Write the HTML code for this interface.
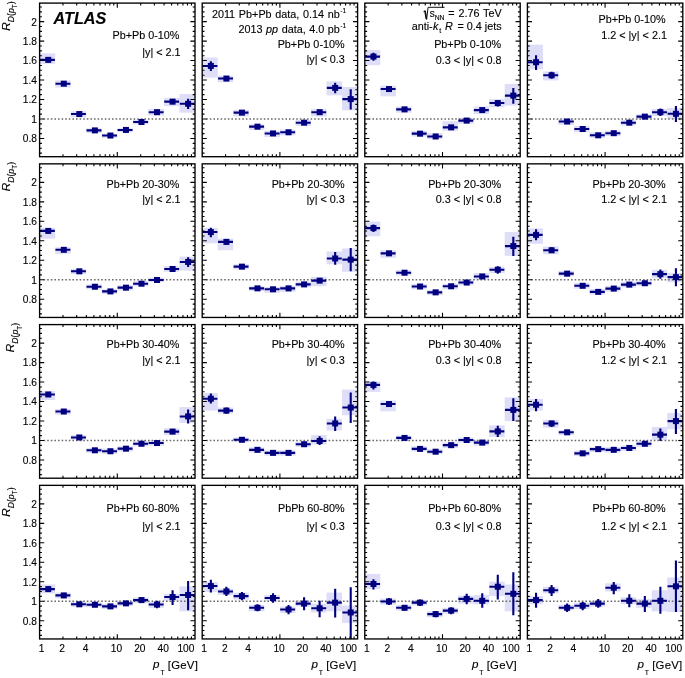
<!DOCTYPE html><html><head><meta charset="utf-8"><style>html,body{margin:0;padding:0;background:#fff;}svg text{fill:#000;stroke:#000;stroke-width:0.12px;}svg{display:block;font-family:"Liberation Sans",sans-serif;filter:blur(0.45px);}</style></head><body>
<svg width="685" height="678" viewBox="0 0 685 678">
<rect width="685" height="678" fill="#fff"/>
<g>
<clipPath id="cp00"><rect x="39.6" y="3.1" width="155.4" height="153.6"/></clipPath>
<g clip-path="url(#cp00)">
<rect x="39.6" y="53.32" width="15.54" height="10.51" fill="#dedef8"/>
<rect x="55.14" y="80.42" width="15.54" height="7.01" fill="#dedef8"/>
<rect x="70.68" y="111.25" width="15.54" height="6.07" fill="#dedef8"/>
<rect x="86.22" y="128.3" width="15.54" height="4.67" fill="#dedef8"/>
<rect x="101.76" y="133.67" width="15.54" height="4.2" fill="#dedef8"/>
<rect x="117.3" y="128.3" width="15.54" height="3.97" fill="#dedef8"/>
<rect x="132.84" y="119.66" width="15.54" height="4.67" fill="#dedef8"/>
<rect x="148.38" y="108.91" width="15.54" height="6.54" fill="#dedef8"/>
<rect x="163.92" y="97.93" width="15.54" height="8.18" fill="#dedef8"/>
<rect x="179.46" y="93.96" width="15.54" height="18.69" fill="#dedef8"/>
<line x1="43.6" y1="119.01" x2="195" y2="119.01" stroke="#6a6a6a" stroke-width="1.3" stroke-dasharray="1.6 2.0"/>
<line x1="39.9" y1="59.86" x2="54.84" y2="59.86" stroke="#000080" stroke-width="2.1"/>
<rect x="45.26" y="56.86" width="6" height="6" fill="#000080"/>
<line x1="55.44" y1="83.69" x2="70.38" y2="83.69" stroke="#000080" stroke-width="2.1"/>
<rect x="60.8" y="80.69" width="6" height="6" fill="#000080"/>
<line x1="70.98" y1="114.05" x2="85.92" y2="114.05" stroke="#000080" stroke-width="2.1"/>
<rect x="76.34" y="111.05" width="6" height="6" fill="#000080"/>
<line x1="86.52" y1="130.4" x2="101.46" y2="130.4" stroke="#000080" stroke-width="2.1"/>
<rect x="91.88" y="127.4" width="6" height="6" fill="#000080"/>
<line x1="102.06" y1="135.54" x2="117" y2="135.54" stroke="#000080" stroke-width="2.1"/>
<rect x="107.42" y="132.54" width="6" height="6" fill="#000080"/>
<line x1="117.6" y1="129.93" x2="132.54" y2="129.93" stroke="#000080" stroke-width="2.1"/>
<rect x="122.96" y="126.93" width="6" height="6" fill="#000080"/>
<line x1="133.14" y1="121.99" x2="148.08" y2="121.99" stroke="#000080" stroke-width="2.1"/>
<rect x="138.5" y="118.99" width="6" height="6" fill="#000080"/>
<line x1="148.68" y1="112.18" x2="163.62" y2="112.18" stroke="#000080" stroke-width="2.1"/>
<rect x="154.04" y="109.18" width="6" height="6" fill="#000080"/>
<line x1="164.22" y1="101.67" x2="179.16" y2="101.67" stroke="#000080" stroke-width="2.1"/>
<rect x="169.58" y="98.67" width="6" height="6" fill="#000080"/>
<line x1="179.76" y1="103.77" x2="194.7" y2="103.77" stroke="#000080" stroke-width="2.1"/>
<line x1="188.12" y1="98.64" x2="188.12" y2="108.91" stroke="#000080" stroke-width="2.1"/>
<rect x="185.12" y="100.77" width="6" height="6" fill="#000080"/>
</g>
<path d="M39.6 153.1h2.3M195 153.1h-2.3M39.6 148.23h2.3M195 148.23h-2.3M39.6 143.36h2.3M195 143.36h-2.3M39.6 138.49h4.6M195 138.49h-4.6M39.6 133.62h2.3M195 133.62h-2.3M39.6 128.75h2.3M195 128.75h-2.3M39.6 123.88h2.3M195 123.88h-2.3M39.6 119.01h4.6M195 119.01h-4.6M39.6 114.14h2.3M195 114.14h-2.3M39.6 109.27h2.3M195 109.27h-2.3M39.6 104.4h2.3M195 104.4h-2.3M39.6 99.53h4.6M195 99.53h-4.6M39.6 94.66h2.3M195 94.66h-2.3M39.6 89.79h2.3M195 89.79h-2.3M39.6 84.92h2.3M195 84.92h-2.3M39.6 80.05h4.6M195 80.05h-4.6M39.6 75.18h2.3M195 75.18h-2.3M39.6 70.31h2.3M195 70.31h-2.3M39.6 65.44h2.3M195 65.44h-2.3M39.6 60.57h4.6M195 60.57h-4.6M39.6 55.7h2.3M195 55.7h-2.3M39.6 50.83h2.3M195 50.83h-2.3M39.6 45.96h2.3M195 45.96h-2.3M39.6 41.09h4.6M195 41.09h-4.6M39.6 36.22h2.3M195 36.22h-2.3M39.6 31.35h2.3M195 31.35h-2.3M39.6 26.48h2.3M195 26.48h-2.3M39.6 21.61h4.6M195 21.61h-4.6M39.6 16.74h2.3M195 16.74h-2.3M39.6 11.87h2.3M195 11.87h-2.3M39.6 7h2.3M195 7h-2.3M62.99 156.7v-2.4M62.99 3.1v2.4M76.67 156.7v-2.4M76.67 3.1v2.4M86.38 156.7v-2.4M86.38 3.1v2.4M93.91 156.7v-2.4M93.91 3.1v2.4M100.06 156.7v-2.4M100.06 3.1v2.4M105.26 156.7v-2.4M105.26 3.1v2.4M109.77 156.7v-2.4M109.77 3.1v2.4M113.74 156.7v-2.4M113.74 3.1v2.4M117.3 156.7v-4.6M117.3 3.1v4.6M140.69 156.7v-2.4M140.69 3.1v2.4M154.37 156.7v-2.4M154.37 3.1v2.4M164.08 156.7v-2.4M164.08 3.1v2.4M171.61 156.7v-2.4M171.61 3.1v2.4M177.76 156.7v-2.4M177.76 3.1v2.4M182.96 156.7v-2.4M182.96 3.1v2.4M187.47 156.7v-2.4M187.47 3.1v2.4M191.44 156.7v-2.4M191.44 3.1v2.4" stroke="#000" stroke-width="1.1" fill="none"/>
<rect x="39.6" y="3.1" width="155.4" height="153.6" fill="none" stroke="#000" stroke-width="1.35"/>
</g>
<g>
<clipPath id="cp01"><rect x="202.2" y="3.1" width="155.4" height="153.6"/></clipPath>
<g clip-path="url(#cp01)">
<rect x="202.2" y="57.53" width="15.54" height="20.09" fill="#dedef8"/>
<rect x="217.74" y="75.74" width="15.54" height="6.54" fill="#dedef8"/>
<rect x="233.28" y="109.85" width="15.54" height="6.54" fill="#dedef8"/>
<rect x="248.82" y="124.33" width="15.54" height="5.61" fill="#dedef8"/>
<rect x="264.36" y="130.87" width="15.54" height="6.07" fill="#dedef8"/>
<rect x="279.9" y="129.47" width="15.54" height="5.84" fill="#dedef8"/>
<rect x="295.44" y="120.12" width="15.54" height="5.84" fill="#dedef8"/>
<rect x="310.98" y="108.91" width="15.54" height="7.47" fill="#dedef8"/>
<rect x="326.52" y="81.35" width="15.54" height="14.01" fill="#dedef8"/>
<rect x="342.06" y="86.96" width="15.54" height="23.36" fill="#dedef8"/>
<line x1="206.2" y1="119.01" x2="357.6" y2="119.01" stroke="#6a6a6a" stroke-width="1.3" stroke-dasharray="1.6 2.0"/>
<line x1="202.5" y1="65.93" x2="217.44" y2="65.93" stroke="#000080" stroke-width="2.1"/>
<line x1="210.86" y1="61.26" x2="210.86" y2="71.07" stroke="#000080" stroke-width="2.1"/>
<rect x="207.86" y="62.93" width="6" height="6" fill="#000080"/>
<line x1="218.04" y1="78.55" x2="232.98" y2="78.55" stroke="#000080" stroke-width="2.1"/>
<rect x="223.4" y="75.55" width="6" height="6" fill="#000080"/>
<line x1="233.58" y1="112.65" x2="248.52" y2="112.65" stroke="#000080" stroke-width="2.1"/>
<rect x="238.94" y="109.65" width="6" height="6" fill="#000080"/>
<line x1="249.12" y1="126.66" x2="264.06" y2="126.66" stroke="#000080" stroke-width="2.1"/>
<rect x="254.48" y="123.66" width="6" height="6" fill="#000080"/>
<line x1="264.66" y1="133.44" x2="279.6" y2="133.44" stroke="#000080" stroke-width="2.1"/>
<rect x="270.02" y="130.44" width="6" height="6" fill="#000080"/>
<line x1="280.2" y1="132.27" x2="295.14" y2="132.27" stroke="#000080" stroke-width="2.1"/>
<rect x="285.56" y="129.27" width="6" height="6" fill="#000080"/>
<line x1="295.74" y1="122.69" x2="310.68" y2="122.69" stroke="#000080" stroke-width="2.1"/>
<rect x="301.1" y="119.69" width="6" height="6" fill="#000080"/>
<line x1="311.28" y1="112.18" x2="326.22" y2="112.18" stroke="#000080" stroke-width="2.1"/>
<rect x="316.64" y="109.18" width="6" height="6" fill="#000080"/>
<line x1="326.82" y1="87.89" x2="341.76" y2="87.89" stroke="#000080" stroke-width="2.1"/>
<line x1="335.18" y1="82.75" x2="335.18" y2="93.26" stroke="#000080" stroke-width="2.1"/>
<rect x="332.18" y="84.89" width="6" height="6" fill="#000080"/>
<line x1="342.36" y1="99.1" x2="357.3" y2="99.1" stroke="#000080" stroke-width="2.1"/>
<line x1="350.72" y1="89.29" x2="350.72" y2="109.38" stroke="#000080" stroke-width="2.1"/>
<rect x="347.72" y="96.1" width="6" height="6" fill="#000080"/>
</g>
<path d="M202.2 153.1h2.3M357.6 153.1h-2.3M202.2 148.23h2.3M357.6 148.23h-2.3M202.2 143.36h2.3M357.6 143.36h-2.3M202.2 138.49h4.6M357.6 138.49h-4.6M202.2 133.62h2.3M357.6 133.62h-2.3M202.2 128.75h2.3M357.6 128.75h-2.3M202.2 123.88h2.3M357.6 123.88h-2.3M202.2 119.01h4.6M357.6 119.01h-4.6M202.2 114.14h2.3M357.6 114.14h-2.3M202.2 109.27h2.3M357.6 109.27h-2.3M202.2 104.4h2.3M357.6 104.4h-2.3M202.2 99.53h4.6M357.6 99.53h-4.6M202.2 94.66h2.3M357.6 94.66h-2.3M202.2 89.79h2.3M357.6 89.79h-2.3M202.2 84.92h2.3M357.6 84.92h-2.3M202.2 80.05h4.6M357.6 80.05h-4.6M202.2 75.18h2.3M357.6 75.18h-2.3M202.2 70.31h2.3M357.6 70.31h-2.3M202.2 65.44h2.3M357.6 65.44h-2.3M202.2 60.57h4.6M357.6 60.57h-4.6M202.2 55.7h2.3M357.6 55.7h-2.3M202.2 50.83h2.3M357.6 50.83h-2.3M202.2 45.96h2.3M357.6 45.96h-2.3M202.2 41.09h4.6M357.6 41.09h-4.6M202.2 36.22h2.3M357.6 36.22h-2.3M202.2 31.35h2.3M357.6 31.35h-2.3M202.2 26.48h2.3M357.6 26.48h-2.3M202.2 21.61h4.6M357.6 21.61h-4.6M202.2 16.74h2.3M357.6 16.74h-2.3M202.2 11.87h2.3M357.6 11.87h-2.3M202.2 7h2.3M357.6 7h-2.3M225.59 156.7v-2.4M225.59 3.1v2.4M239.27 156.7v-2.4M239.27 3.1v2.4M248.98 156.7v-2.4M248.98 3.1v2.4M256.51 156.7v-2.4M256.51 3.1v2.4M262.66 156.7v-2.4M262.66 3.1v2.4M267.86 156.7v-2.4M267.86 3.1v2.4M272.37 156.7v-2.4M272.37 3.1v2.4M276.34 156.7v-2.4M276.34 3.1v2.4M279.9 156.7v-4.6M279.9 3.1v4.6M303.29 156.7v-2.4M303.29 3.1v2.4M316.97 156.7v-2.4M316.97 3.1v2.4M326.68 156.7v-2.4M326.68 3.1v2.4M334.21 156.7v-2.4M334.21 3.1v2.4M340.36 156.7v-2.4M340.36 3.1v2.4M345.56 156.7v-2.4M345.56 3.1v2.4M350.07 156.7v-2.4M350.07 3.1v2.4M354.04 156.7v-2.4M354.04 3.1v2.4" stroke="#000" stroke-width="1.1" fill="none"/>
<rect x="202.2" y="3.1" width="155.4" height="153.6" fill="none" stroke="#000" stroke-width="1.35"/>
</g>
<g>
<clipPath id="cp02"><rect x="364.8" y="3.1" width="155.4" height="153.6"/></clipPath>
<g clip-path="url(#cp02)">
<rect x="364.8" y="50.05" width="15.54" height="15.18" fill="#dedef8"/>
<rect x="380.34" y="85.79" width="15.54" height="10.51" fill="#dedef8"/>
<rect x="395.88" y="106.58" width="15.54" height="6.07" fill="#dedef8"/>
<rect x="411.42" y="130.87" width="15.54" height="5.61" fill="#dedef8"/>
<rect x="426.96" y="133.2" width="15.54" height="6.07" fill="#dedef8"/>
<rect x="442.5" y="121.29" width="15.54" height="9.58" fill="#dedef8"/>
<rect x="458.04" y="117.79" width="15.54" height="6.07" fill="#dedef8"/>
<rect x="473.58" y="106.58" width="15.54" height="7.47" fill="#dedef8"/>
<rect x="489.12" y="99.1" width="15.54" height="8.18" fill="#dedef8"/>
<rect x="504.66" y="83.92" width="15.54" height="21.72" fill="#dedef8"/>
<line x1="368.8" y1="119.01" x2="520.2" y2="119.01" stroke="#6a6a6a" stroke-width="1.3" stroke-dasharray="1.6 2.0"/>
<line x1="365.1" y1="56.59" x2="380.04" y2="56.59" stroke="#000080" stroke-width="2.1"/>
<line x1="373.46" y1="52.85" x2="373.46" y2="60.8" stroke="#000080" stroke-width="2.1"/>
<rect x="370.46" y="53.59" width="6" height="6" fill="#000080"/>
<line x1="380.64" y1="89.06" x2="395.58" y2="89.06" stroke="#000080" stroke-width="2.1"/>
<rect x="386" y="86.06" width="6" height="6" fill="#000080"/>
<line x1="396.18" y1="109.38" x2="411.12" y2="109.38" stroke="#000080" stroke-width="2.1"/>
<rect x="401.54" y="106.38" width="6" height="6" fill="#000080"/>
<line x1="411.72" y1="133.67" x2="426.66" y2="133.67" stroke="#000080" stroke-width="2.1"/>
<rect x="417.08" y="130.67" width="6" height="6" fill="#000080"/>
<line x1="427.26" y1="136.47" x2="442.2" y2="136.47" stroke="#000080" stroke-width="2.1"/>
<rect x="432.62" y="133.47" width="6" height="6" fill="#000080"/>
<line x1="442.8" y1="127.36" x2="457.74" y2="127.36" stroke="#000080" stroke-width="2.1"/>
<rect x="448.16" y="124.36" width="6" height="6" fill="#000080"/>
<line x1="458.34" y1="120.59" x2="473.28" y2="120.59" stroke="#000080" stroke-width="2.1"/>
<rect x="463.7" y="117.59" width="6" height="6" fill="#000080"/>
<line x1="473.88" y1="110.08" x2="488.82" y2="110.08" stroke="#000080" stroke-width="2.1"/>
<rect x="479.24" y="107.08" width="6" height="6" fill="#000080"/>
<line x1="489.42" y1="103.07" x2="504.36" y2="103.07" stroke="#000080" stroke-width="2.1"/>
<line x1="497.78" y1="100.27" x2="497.78" y2="106.58" stroke="#000080" stroke-width="2.1"/>
<rect x="494.78" y="100.07" width="6" height="6" fill="#000080"/>
<line x1="504.96" y1="95.6" x2="519.9" y2="95.6" stroke="#000080" stroke-width="2.1"/>
<line x1="513.32" y1="87.89" x2="513.32" y2="103.77" stroke="#000080" stroke-width="2.1"/>
<rect x="510.32" y="92.6" width="6" height="6" fill="#000080"/>
</g>
<path d="M364.8 153.1h2.3M520.2 153.1h-2.3M364.8 148.23h2.3M520.2 148.23h-2.3M364.8 143.36h2.3M520.2 143.36h-2.3M364.8 138.49h4.6M520.2 138.49h-4.6M364.8 133.62h2.3M520.2 133.62h-2.3M364.8 128.75h2.3M520.2 128.75h-2.3M364.8 123.88h2.3M520.2 123.88h-2.3M364.8 119.01h4.6M520.2 119.01h-4.6M364.8 114.14h2.3M520.2 114.14h-2.3M364.8 109.27h2.3M520.2 109.27h-2.3M364.8 104.4h2.3M520.2 104.4h-2.3M364.8 99.53h4.6M520.2 99.53h-4.6M364.8 94.66h2.3M520.2 94.66h-2.3M364.8 89.79h2.3M520.2 89.79h-2.3M364.8 84.92h2.3M520.2 84.92h-2.3M364.8 80.05h4.6M520.2 80.05h-4.6M364.8 75.18h2.3M520.2 75.18h-2.3M364.8 70.31h2.3M520.2 70.31h-2.3M364.8 65.44h2.3M520.2 65.44h-2.3M364.8 60.57h4.6M520.2 60.57h-4.6M364.8 55.7h2.3M520.2 55.7h-2.3M364.8 50.83h2.3M520.2 50.83h-2.3M364.8 45.96h2.3M520.2 45.96h-2.3M364.8 41.09h4.6M520.2 41.09h-4.6M364.8 36.22h2.3M520.2 36.22h-2.3M364.8 31.35h2.3M520.2 31.35h-2.3M364.8 26.48h2.3M520.2 26.48h-2.3M364.8 21.61h4.6M520.2 21.61h-4.6M364.8 16.74h2.3M520.2 16.74h-2.3M364.8 11.87h2.3M520.2 11.87h-2.3M364.8 7h2.3M520.2 7h-2.3M388.19 156.7v-2.4M388.19 3.1v2.4M401.87 156.7v-2.4M401.87 3.1v2.4M411.58 156.7v-2.4M411.58 3.1v2.4M419.11 156.7v-2.4M419.11 3.1v2.4M425.26 156.7v-2.4M425.26 3.1v2.4M430.46 156.7v-2.4M430.46 3.1v2.4M434.97 156.7v-2.4M434.97 3.1v2.4M438.94 156.7v-2.4M438.94 3.1v2.4M442.5 156.7v-4.6M442.5 3.1v4.6M465.89 156.7v-2.4M465.89 3.1v2.4M479.57 156.7v-2.4M479.57 3.1v2.4M489.28 156.7v-2.4M489.28 3.1v2.4M496.81 156.7v-2.4M496.81 3.1v2.4M502.96 156.7v-2.4M502.96 3.1v2.4M508.16 156.7v-2.4M508.16 3.1v2.4M512.67 156.7v-2.4M512.67 3.1v2.4M516.64 156.7v-2.4M516.64 3.1v2.4" stroke="#000" stroke-width="1.1" fill="none"/>
<rect x="364.8" y="3.1" width="155.4" height="153.6" fill="none" stroke="#000" stroke-width="1.35"/>
</g>
<g>
<clipPath id="cp03"><rect x="527.4" y="3.1" width="155.4" height="153.6"/></clipPath>
<g clip-path="url(#cp03)">
<rect x="527.4" y="44.68" width="15.54" height="24.53" fill="#dedef8"/>
<rect x="542.94" y="71.54" width="15.54" height="8.88" fill="#dedef8"/>
<rect x="558.48" y="118.96" width="15.54" height="5.84" fill="#dedef8"/>
<rect x="574.02" y="125.96" width="15.54" height="6.31" fill="#dedef8"/>
<rect x="589.56" y="132.27" width="15.54" height="5.61" fill="#dedef8"/>
<rect x="605.1" y="130.64" width="15.54" height="5.37" fill="#dedef8"/>
<rect x="620.64" y="120.12" width="15.54" height="5.37" fill="#dedef8"/>
<rect x="636.18" y="114.28" width="15.54" height="5.14" fill="#dedef8"/>
<rect x="651.72" y="108.91" width="15.54" height="7.01" fill="#dedef8"/>
<rect x="667.26" y="107.98" width="15.54" height="10.98" fill="#dedef8"/>
<line x1="531.4" y1="119.01" x2="682.8" y2="119.01" stroke="#6a6a6a" stroke-width="1.3" stroke-dasharray="1.6 2.0"/>
<line x1="527.7" y1="62.2" x2="542.64" y2="62.2" stroke="#000080" stroke-width="2.1"/>
<line x1="536.06" y1="55.19" x2="536.06" y2="69.91" stroke="#000080" stroke-width="2.1"/>
<rect x="533.06" y="59.2" width="6" height="6" fill="#000080"/>
<line x1="543.24" y1="75.28" x2="558.18" y2="75.28" stroke="#000080" stroke-width="2.1"/>
<line x1="551.6" y1="71.77" x2="551.6" y2="78.78" stroke="#000080" stroke-width="2.1"/>
<rect x="548.6" y="72.28" width="6" height="6" fill="#000080"/>
<line x1="558.78" y1="121.53" x2="573.72" y2="121.53" stroke="#000080" stroke-width="2.1"/>
<rect x="564.14" y="118.53" width="6" height="6" fill="#000080"/>
<line x1="574.32" y1="129" x2="589.26" y2="129" stroke="#000080" stroke-width="2.1"/>
<rect x="579.68" y="126" width="6" height="6" fill="#000080"/>
<line x1="589.86" y1="135.31" x2="604.8" y2="135.31" stroke="#000080" stroke-width="2.1"/>
<rect x="595.22" y="132.31" width="6" height="6" fill="#000080"/>
<line x1="605.4" y1="133.2" x2="620.34" y2="133.2" stroke="#000080" stroke-width="2.1"/>
<rect x="610.76" y="130.2" width="6" height="6" fill="#000080"/>
<line x1="620.94" y1="122.69" x2="635.88" y2="122.69" stroke="#000080" stroke-width="2.1"/>
<rect x="626.3" y="119.69" width="6" height="6" fill="#000080"/>
<line x1="636.48" y1="116.62" x2="651.42" y2="116.62" stroke="#000080" stroke-width="2.1"/>
<rect x="641.84" y="113.62" width="6" height="6" fill="#000080"/>
<line x1="652.02" y1="112.18" x2="666.96" y2="112.18" stroke="#000080" stroke-width="2.1"/>
<line x1="660.38" y1="108.45" x2="660.38" y2="115.92" stroke="#000080" stroke-width="2.1"/>
<rect x="657.38" y="109.18" width="6" height="6" fill="#000080"/>
<line x1="667.56" y1="113.82" x2="682.5" y2="113.82" stroke="#000080" stroke-width="2.1"/>
<line x1="675.92" y1="106.11" x2="675.92" y2="121.99" stroke="#000080" stroke-width="2.1"/>
<rect x="672.92" y="110.82" width="6" height="6" fill="#000080"/>
</g>
<path d="M527.4 153.1h2.3M682.8 153.1h-2.3M527.4 148.23h2.3M682.8 148.23h-2.3M527.4 143.36h2.3M682.8 143.36h-2.3M527.4 138.49h4.6M682.8 138.49h-4.6M527.4 133.62h2.3M682.8 133.62h-2.3M527.4 128.75h2.3M682.8 128.75h-2.3M527.4 123.88h2.3M682.8 123.88h-2.3M527.4 119.01h4.6M682.8 119.01h-4.6M527.4 114.14h2.3M682.8 114.14h-2.3M527.4 109.27h2.3M682.8 109.27h-2.3M527.4 104.4h2.3M682.8 104.4h-2.3M527.4 99.53h4.6M682.8 99.53h-4.6M527.4 94.66h2.3M682.8 94.66h-2.3M527.4 89.79h2.3M682.8 89.79h-2.3M527.4 84.92h2.3M682.8 84.92h-2.3M527.4 80.05h4.6M682.8 80.05h-4.6M527.4 75.18h2.3M682.8 75.18h-2.3M527.4 70.31h2.3M682.8 70.31h-2.3M527.4 65.44h2.3M682.8 65.44h-2.3M527.4 60.57h4.6M682.8 60.57h-4.6M527.4 55.7h2.3M682.8 55.7h-2.3M527.4 50.83h2.3M682.8 50.83h-2.3M527.4 45.96h2.3M682.8 45.96h-2.3M527.4 41.09h4.6M682.8 41.09h-4.6M527.4 36.22h2.3M682.8 36.22h-2.3M527.4 31.35h2.3M682.8 31.35h-2.3M527.4 26.48h2.3M682.8 26.48h-2.3M527.4 21.61h4.6M682.8 21.61h-4.6M527.4 16.74h2.3M682.8 16.74h-2.3M527.4 11.87h2.3M682.8 11.87h-2.3M527.4 7h2.3M682.8 7h-2.3M550.79 156.7v-2.4M550.79 3.1v2.4M564.47 156.7v-2.4M564.47 3.1v2.4M574.18 156.7v-2.4M574.18 3.1v2.4M581.71 156.7v-2.4M581.71 3.1v2.4M587.86 156.7v-2.4M587.86 3.1v2.4M593.06 156.7v-2.4M593.06 3.1v2.4M597.57 156.7v-2.4M597.57 3.1v2.4M601.54 156.7v-2.4M601.54 3.1v2.4M605.1 156.7v-4.6M605.1 3.1v4.6M628.49 156.7v-2.4M628.49 3.1v2.4M642.17 156.7v-2.4M642.17 3.1v2.4M651.88 156.7v-2.4M651.88 3.1v2.4M659.41 156.7v-2.4M659.41 3.1v2.4M665.56 156.7v-2.4M665.56 3.1v2.4M670.76 156.7v-2.4M670.76 3.1v2.4M675.27 156.7v-2.4M675.27 3.1v2.4M679.24 156.7v-2.4M679.24 3.1v2.4" stroke="#000" stroke-width="1.1" fill="none"/>
<rect x="527.4" y="3.1" width="155.4" height="153.6" fill="none" stroke="#000" stroke-width="1.35"/>
</g>
<g>
<clipPath id="cp10"><rect x="39.6" y="163.85" width="155.4" height="153.6"/></clipPath>
<g clip-path="url(#cp10)">
<rect x="39.6" y="227.87" width="15.54" height="10.74" fill="#dedef8"/>
<rect x="55.14" y="247.26" width="15.54" height="6.54" fill="#dedef8"/>
<rect x="70.68" y="268.98" width="15.54" height="5.14" fill="#dedef8"/>
<rect x="86.22" y="284.39" width="15.54" height="4.91" fill="#dedef8"/>
<rect x="101.76" y="289.3" width="15.54" height="4.67" fill="#dedef8"/>
<rect x="117.3" y="285.33" width="15.54" height="5.14" fill="#dedef8"/>
<rect x="132.84" y="281.12" width="15.54" height="5.14" fill="#dedef8"/>
<rect x="148.38" y="277.62" width="15.54" height="4.67" fill="#dedef8"/>
<rect x="163.92" y="266.18" width="15.54" height="5.61" fill="#dedef8"/>
<rect x="179.46" y="256.6" width="15.54" height="14.01" fill="#dedef8"/>
<line x1="43.6" y1="279.76" x2="195" y2="279.76" stroke="#6a6a6a" stroke-width="1.3" stroke-dasharray="1.6 2.0"/>
<line x1="39.9" y1="230.91" x2="54.84" y2="230.91" stroke="#000080" stroke-width="2.1"/>
<rect x="45.26" y="227.91" width="6" height="6" fill="#000080"/>
<line x1="55.44" y1="249.82" x2="70.38" y2="249.82" stroke="#000080" stroke-width="2.1"/>
<rect x="60.8" y="246.82" width="6" height="6" fill="#000080"/>
<line x1="70.98" y1="271.31" x2="85.92" y2="271.31" stroke="#000080" stroke-width="2.1"/>
<rect x="76.34" y="268.31" width="6" height="6" fill="#000080"/>
<line x1="86.52" y1="286.73" x2="101.46" y2="286.73" stroke="#000080" stroke-width="2.1"/>
<rect x="91.88" y="283.73" width="6" height="6" fill="#000080"/>
<line x1="102.06" y1="291.4" x2="117" y2="291.4" stroke="#000080" stroke-width="2.1"/>
<rect x="107.42" y="288.4" width="6" height="6" fill="#000080"/>
<line x1="117.6" y1="287.66" x2="132.54" y2="287.66" stroke="#000080" stroke-width="2.1"/>
<rect x="122.96" y="284.66" width="6" height="6" fill="#000080"/>
<line x1="133.14" y1="283.69" x2="148.08" y2="283.69" stroke="#000080" stroke-width="2.1"/>
<rect x="138.5" y="280.69" width="6" height="6" fill="#000080"/>
<line x1="148.68" y1="279.96" x2="163.62" y2="279.96" stroke="#000080" stroke-width="2.1"/>
<rect x="154.04" y="276.96" width="6" height="6" fill="#000080"/>
<line x1="164.22" y1="268.98" x2="179.16" y2="268.98" stroke="#000080" stroke-width="2.1"/>
<rect x="169.58" y="265.98" width="6" height="6" fill="#000080"/>
<line x1="179.76" y1="261.97" x2="194.7" y2="261.97" stroke="#000080" stroke-width="2.1"/>
<line x1="188.12" y1="257.3" x2="188.12" y2="267.11" stroke="#000080" stroke-width="2.1"/>
<rect x="185.12" y="258.97" width="6" height="6" fill="#000080"/>
</g>
<path d="M39.6 313.85h2.3M195 313.85h-2.3M39.6 308.98h2.3M195 308.98h-2.3M39.6 304.11h2.3M195 304.11h-2.3M39.6 299.24h4.6M195 299.24h-4.6M39.6 294.37h2.3M195 294.37h-2.3M39.6 289.5h2.3M195 289.5h-2.3M39.6 284.63h2.3M195 284.63h-2.3M39.6 279.76h4.6M195 279.76h-4.6M39.6 274.89h2.3M195 274.89h-2.3M39.6 270.02h2.3M195 270.02h-2.3M39.6 265.15h2.3M195 265.15h-2.3M39.6 260.28h4.6M195 260.28h-4.6M39.6 255.41h2.3M195 255.41h-2.3M39.6 250.54h2.3M195 250.54h-2.3M39.6 245.67h2.3M195 245.67h-2.3M39.6 240.8h4.6M195 240.8h-4.6M39.6 235.93h2.3M195 235.93h-2.3M39.6 231.06h2.3M195 231.06h-2.3M39.6 226.19h2.3M195 226.19h-2.3M39.6 221.32h4.6M195 221.32h-4.6M39.6 216.45h2.3M195 216.45h-2.3M39.6 211.58h2.3M195 211.58h-2.3M39.6 206.71h2.3M195 206.71h-2.3M39.6 201.84h4.6M195 201.84h-4.6M39.6 196.97h2.3M195 196.97h-2.3M39.6 192.1h2.3M195 192.1h-2.3M39.6 187.23h2.3M195 187.23h-2.3M39.6 182.36h4.6M195 182.36h-4.6M39.6 177.49h2.3M195 177.49h-2.3M39.6 172.62h2.3M195 172.62h-2.3M39.6 167.75h2.3M195 167.75h-2.3M62.99 317.45v-2.4M62.99 163.85v2.4M76.67 317.45v-2.4M76.67 163.85v2.4M86.38 317.45v-2.4M86.38 163.85v2.4M93.91 317.45v-2.4M93.91 163.85v2.4M100.06 317.45v-2.4M100.06 163.85v2.4M105.26 317.45v-2.4M105.26 163.85v2.4M109.77 317.45v-2.4M109.77 163.85v2.4M113.74 317.45v-2.4M113.74 163.85v2.4M117.3 317.45v-4.6M117.3 163.85v4.6M140.69 317.45v-2.4M140.69 163.85v2.4M154.37 317.45v-2.4M154.37 163.85v2.4M164.08 317.45v-2.4M164.08 163.85v2.4M171.61 317.45v-2.4M171.61 163.85v2.4M177.76 317.45v-2.4M177.76 163.85v2.4M182.96 317.45v-2.4M182.96 163.85v2.4M187.47 317.45v-2.4M187.47 163.85v2.4M191.44 317.45v-2.4M191.44 163.85v2.4" stroke="#000" stroke-width="1.1" fill="none"/>
<rect x="39.6" y="163.85" width="155.4" height="153.6" fill="none" stroke="#000" stroke-width="1.35"/>
</g>
<g>
<clipPath id="cp11"><rect x="202.2" y="163.85" width="155.4" height="153.6"/></clipPath>
<g clip-path="url(#cp11)">
<rect x="202.2" y="227.87" width="15.54" height="15.42" fill="#dedef8"/>
<rect x="217.74" y="238.61" width="15.54" height="11.68" fill="#dedef8"/>
<rect x="233.28" y="264.31" width="15.54" height="5.14" fill="#dedef8"/>
<rect x="248.82" y="286.26" width="15.54" height="4.67" fill="#dedef8"/>
<rect x="264.36" y="286.96" width="15.54" height="5.84" fill="#dedef8"/>
<rect x="279.9" y="285.8" width="15.54" height="6.07" fill="#dedef8"/>
<rect x="295.44" y="281.59" width="15.54" height="5.61" fill="#dedef8"/>
<rect x="310.98" y="276.92" width="15.54" height="9.34" fill="#dedef8"/>
<rect x="326.52" y="251.46" width="15.54" height="12.85" fill="#dedef8"/>
<rect x="342.06" y="248.42" width="15.54" height="23.36" fill="#dedef8"/>
<line x1="206.2" y1="279.76" x2="357.6" y2="279.76" stroke="#6a6a6a" stroke-width="1.3" stroke-dasharray="1.6 2.0"/>
<line x1="202.5" y1="232.07" x2="217.44" y2="232.07" stroke="#000080" stroke-width="2.1"/>
<line x1="210.86" y1="227.87" x2="210.86" y2="237.21" stroke="#000080" stroke-width="2.1"/>
<rect x="207.86" y="229.07" width="6" height="6" fill="#000080"/>
<line x1="218.04" y1="241.88" x2="232.98" y2="241.88" stroke="#000080" stroke-width="2.1"/>
<line x1="226.4" y1="239.08" x2="226.4" y2="244.92" stroke="#000080" stroke-width="2.1"/>
<rect x="223.4" y="238.88" width="6" height="6" fill="#000080"/>
<line x1="233.58" y1="266.64" x2="248.52" y2="266.64" stroke="#000080" stroke-width="2.1"/>
<rect x="238.94" y="263.64" width="6" height="6" fill="#000080"/>
<line x1="249.12" y1="288.36" x2="264.06" y2="288.36" stroke="#000080" stroke-width="2.1"/>
<rect x="254.48" y="285.36" width="6" height="6" fill="#000080"/>
<line x1="264.66" y1="289.3" x2="279.6" y2="289.3" stroke="#000080" stroke-width="2.1"/>
<rect x="270.02" y="286.3" width="6" height="6" fill="#000080"/>
<line x1="280.2" y1="288.36" x2="295.14" y2="288.36" stroke="#000080" stroke-width="2.1"/>
<rect x="285.56" y="285.36" width="6" height="6" fill="#000080"/>
<line x1="295.74" y1="284.39" x2="310.68" y2="284.39" stroke="#000080" stroke-width="2.1"/>
<rect x="301.1" y="281.39" width="6" height="6" fill="#000080"/>
<line x1="311.28" y1="280.66" x2="326.22" y2="280.66" stroke="#000080" stroke-width="2.1"/>
<rect x="316.64" y="277.66" width="6" height="6" fill="#000080"/>
<line x1="326.82" y1="258.47" x2="341.76" y2="258.47" stroke="#000080" stroke-width="2.1"/>
<line x1="335.18" y1="251.93" x2="335.18" y2="264.77" stroke="#000080" stroke-width="2.1"/>
<rect x="332.18" y="255.47" width="6" height="6" fill="#000080"/>
<line x1="342.36" y1="259.64" x2="357.3" y2="259.64" stroke="#000080" stroke-width="2.1"/>
<line x1="350.72" y1="247.96" x2="350.72" y2="271.31" stroke="#000080" stroke-width="2.1"/>
<rect x="347.72" y="256.64" width="6" height="6" fill="#000080"/>
</g>
<path d="M202.2 313.85h2.3M357.6 313.85h-2.3M202.2 308.98h2.3M357.6 308.98h-2.3M202.2 304.11h2.3M357.6 304.11h-2.3M202.2 299.24h4.6M357.6 299.24h-4.6M202.2 294.37h2.3M357.6 294.37h-2.3M202.2 289.5h2.3M357.6 289.5h-2.3M202.2 284.63h2.3M357.6 284.63h-2.3M202.2 279.76h4.6M357.6 279.76h-4.6M202.2 274.89h2.3M357.6 274.89h-2.3M202.2 270.02h2.3M357.6 270.02h-2.3M202.2 265.15h2.3M357.6 265.15h-2.3M202.2 260.28h4.6M357.6 260.28h-4.6M202.2 255.41h2.3M357.6 255.41h-2.3M202.2 250.54h2.3M357.6 250.54h-2.3M202.2 245.67h2.3M357.6 245.67h-2.3M202.2 240.8h4.6M357.6 240.8h-4.6M202.2 235.93h2.3M357.6 235.93h-2.3M202.2 231.06h2.3M357.6 231.06h-2.3M202.2 226.19h2.3M357.6 226.19h-2.3M202.2 221.32h4.6M357.6 221.32h-4.6M202.2 216.45h2.3M357.6 216.45h-2.3M202.2 211.58h2.3M357.6 211.58h-2.3M202.2 206.71h2.3M357.6 206.71h-2.3M202.2 201.84h4.6M357.6 201.84h-4.6M202.2 196.97h2.3M357.6 196.97h-2.3M202.2 192.1h2.3M357.6 192.1h-2.3M202.2 187.23h2.3M357.6 187.23h-2.3M202.2 182.36h4.6M357.6 182.36h-4.6M202.2 177.49h2.3M357.6 177.49h-2.3M202.2 172.62h2.3M357.6 172.62h-2.3M202.2 167.75h2.3M357.6 167.75h-2.3M225.59 317.45v-2.4M225.59 163.85v2.4M239.27 317.45v-2.4M239.27 163.85v2.4M248.98 317.45v-2.4M248.98 163.85v2.4M256.51 317.45v-2.4M256.51 163.85v2.4M262.66 317.45v-2.4M262.66 163.85v2.4M267.86 317.45v-2.4M267.86 163.85v2.4M272.37 317.45v-2.4M272.37 163.85v2.4M276.34 317.45v-2.4M276.34 163.85v2.4M279.9 317.45v-4.6M279.9 163.85v4.6M303.29 317.45v-2.4M303.29 163.85v2.4M316.97 317.45v-2.4M316.97 163.85v2.4M326.68 317.45v-2.4M326.68 163.85v2.4M334.21 317.45v-2.4M334.21 163.85v2.4M340.36 317.45v-2.4M340.36 163.85v2.4M345.56 317.45v-2.4M345.56 163.85v2.4M350.07 317.45v-2.4M350.07 163.85v2.4M354.04 317.45v-2.4M354.04 163.85v2.4" stroke="#000" stroke-width="1.1" fill="none"/>
<rect x="202.2" y="163.85" width="155.4" height="153.6" fill="none" stroke="#000" stroke-width="1.35"/>
</g>
<g>
<clipPath id="cp12"><rect x="364.8" y="163.85" width="155.4" height="153.6"/></clipPath>
<g clip-path="url(#cp12)">
<rect x="364.8" y="221.56" width="15.54" height="14.72" fill="#dedef8"/>
<rect x="380.34" y="250.29" width="15.54" height="7.47" fill="#dedef8"/>
<rect x="395.88" y="270.15" width="15.54" height="5.37" fill="#dedef8"/>
<rect x="411.42" y="283.93" width="15.54" height="5.37" fill="#dedef8"/>
<rect x="426.96" y="289.77" width="15.54" height="5.37" fill="#dedef8"/>
<rect x="442.5" y="283.69" width="15.54" height="5.61" fill="#dedef8"/>
<rect x="458.04" y="280.19" width="15.54" height="5.14" fill="#dedef8"/>
<rect x="473.58" y="272.95" width="15.54" height="6.54" fill="#dedef8"/>
<rect x="489.12" y="267.11" width="15.54" height="5.84" fill="#dedef8"/>
<rect x="504.66" y="232.07" width="15.54" height="23.82" fill="#dedef8"/>
<line x1="368.8" y1="279.76" x2="520.2" y2="279.76" stroke="#6a6a6a" stroke-width="1.3" stroke-dasharray="1.6 2.0"/>
<line x1="365.1" y1="228.1" x2="380.04" y2="228.1" stroke="#000080" stroke-width="2.1"/>
<line x1="373.46" y1="224.6" x2="373.46" y2="232.07" stroke="#000080" stroke-width="2.1"/>
<rect x="370.46" y="225.1" width="6" height="6" fill="#000080"/>
<line x1="380.64" y1="253.33" x2="395.58" y2="253.33" stroke="#000080" stroke-width="2.1"/>
<rect x="386" y="250.33" width="6" height="6" fill="#000080"/>
<line x1="396.18" y1="272.72" x2="411.12" y2="272.72" stroke="#000080" stroke-width="2.1"/>
<rect x="401.54" y="269.72" width="6" height="6" fill="#000080"/>
<line x1="411.72" y1="286.5" x2="426.66" y2="286.5" stroke="#000080" stroke-width="2.1"/>
<rect x="417.08" y="283.5" width="6" height="6" fill="#000080"/>
<line x1="427.26" y1="292.34" x2="442.2" y2="292.34" stroke="#000080" stroke-width="2.1"/>
<rect x="432.62" y="289.34" width="6" height="6" fill="#000080"/>
<line x1="442.8" y1="286.26" x2="457.74" y2="286.26" stroke="#000080" stroke-width="2.1"/>
<rect x="448.16" y="283.26" width="6" height="6" fill="#000080"/>
<line x1="458.34" y1="282.53" x2="473.28" y2="282.53" stroke="#000080" stroke-width="2.1"/>
<rect x="463.7" y="279.53" width="6" height="6" fill="#000080"/>
<line x1="473.88" y1="276.45" x2="488.82" y2="276.45" stroke="#000080" stroke-width="2.1"/>
<rect x="479.24" y="273.45" width="6" height="6" fill="#000080"/>
<line x1="489.42" y1="269.68" x2="504.36" y2="269.68" stroke="#000080" stroke-width="2.1"/>
<line x1="497.78" y1="266.18" x2="497.78" y2="273.65" stroke="#000080" stroke-width="2.1"/>
<rect x="494.78" y="266.68" width="6" height="6" fill="#000080"/>
<line x1="504.96" y1="246.09" x2="519.9" y2="246.09" stroke="#000080" stroke-width="2.1"/>
<line x1="513.32" y1="236.74" x2="513.32" y2="255.9" stroke="#000080" stroke-width="2.1"/>
<rect x="510.32" y="243.09" width="6" height="6" fill="#000080"/>
</g>
<path d="M364.8 313.85h2.3M520.2 313.85h-2.3M364.8 308.98h2.3M520.2 308.98h-2.3M364.8 304.11h2.3M520.2 304.11h-2.3M364.8 299.24h4.6M520.2 299.24h-4.6M364.8 294.37h2.3M520.2 294.37h-2.3M364.8 289.5h2.3M520.2 289.5h-2.3M364.8 284.63h2.3M520.2 284.63h-2.3M364.8 279.76h4.6M520.2 279.76h-4.6M364.8 274.89h2.3M520.2 274.89h-2.3M364.8 270.02h2.3M520.2 270.02h-2.3M364.8 265.15h2.3M520.2 265.15h-2.3M364.8 260.28h4.6M520.2 260.28h-4.6M364.8 255.41h2.3M520.2 255.41h-2.3M364.8 250.54h2.3M520.2 250.54h-2.3M364.8 245.67h2.3M520.2 245.67h-2.3M364.8 240.8h4.6M520.2 240.8h-4.6M364.8 235.93h2.3M520.2 235.93h-2.3M364.8 231.06h2.3M520.2 231.06h-2.3M364.8 226.19h2.3M520.2 226.19h-2.3M364.8 221.32h4.6M520.2 221.32h-4.6M364.8 216.45h2.3M520.2 216.45h-2.3M364.8 211.58h2.3M520.2 211.58h-2.3M364.8 206.71h2.3M520.2 206.71h-2.3M364.8 201.84h4.6M520.2 201.84h-4.6M364.8 196.97h2.3M520.2 196.97h-2.3M364.8 192.1h2.3M520.2 192.1h-2.3M364.8 187.23h2.3M520.2 187.23h-2.3M364.8 182.36h4.6M520.2 182.36h-4.6M364.8 177.49h2.3M520.2 177.49h-2.3M364.8 172.62h2.3M520.2 172.62h-2.3M364.8 167.75h2.3M520.2 167.75h-2.3M388.19 317.45v-2.4M388.19 163.85v2.4M401.87 317.45v-2.4M401.87 163.85v2.4M411.58 317.45v-2.4M411.58 163.85v2.4M419.11 317.45v-2.4M419.11 163.85v2.4M425.26 317.45v-2.4M425.26 163.85v2.4M430.46 317.45v-2.4M430.46 163.85v2.4M434.97 317.45v-2.4M434.97 163.85v2.4M438.94 317.45v-2.4M438.94 163.85v2.4M442.5 317.45v-4.6M442.5 163.85v4.6M465.89 317.45v-2.4M465.89 163.85v2.4M479.57 317.45v-2.4M479.57 163.85v2.4M489.28 317.45v-2.4M489.28 163.85v2.4M496.81 317.45v-2.4M496.81 163.85v2.4M502.96 317.45v-2.4M502.96 163.85v2.4M508.16 317.45v-2.4M508.16 163.85v2.4M512.67 317.45v-2.4M512.67 163.85v2.4M516.64 317.45v-2.4M516.64 163.85v2.4" stroke="#000" stroke-width="1.1" fill="none"/>
<rect x="364.8" y="163.85" width="155.4" height="153.6" fill="none" stroke="#000" stroke-width="1.35"/>
</g>
<g>
<clipPath id="cp13"><rect x="527.4" y="163.85" width="155.4" height="153.6"/></clipPath>
<g clip-path="url(#cp13)">
<rect x="527.4" y="228.34" width="15.54" height="15.42" fill="#dedef8"/>
<rect x="542.94" y="246.55" width="15.54" height="7.71" fill="#dedef8"/>
<rect x="558.48" y="270.85" width="15.54" height="5.61" fill="#dedef8"/>
<rect x="574.02" y="282.99" width="15.54" height="5.61" fill="#dedef8"/>
<rect x="589.56" y="289.07" width="15.54" height="5.61" fill="#dedef8"/>
<rect x="605.1" y="285.8" width="15.54" height="5.61" fill="#dedef8"/>
<rect x="620.64" y="281.59" width="15.54" height="5.84" fill="#dedef8"/>
<rect x="636.18" y="280.66" width="15.54" height="5.14" fill="#dedef8"/>
<rect x="651.72" y="269.91" width="15.54" height="8.41" fill="#dedef8"/>
<rect x="667.26" y="272.95" width="15.54" height="9.34" fill="#dedef8"/>
<line x1="531.4" y1="279.76" x2="682.8" y2="279.76" stroke="#6a6a6a" stroke-width="1.3" stroke-dasharray="1.6 2.0"/>
<line x1="527.7" y1="234.88" x2="542.64" y2="234.88" stroke="#000080" stroke-width="2.1"/>
<line x1="536.06" y1="229.27" x2="536.06" y2="240.25" stroke="#000080" stroke-width="2.1"/>
<rect x="533.06" y="231.88" width="6" height="6" fill="#000080"/>
<line x1="543.24" y1="250.29" x2="558.18" y2="250.29" stroke="#000080" stroke-width="2.1"/>
<line x1="551.6" y1="247.26" x2="551.6" y2="253.09" stroke="#000080" stroke-width="2.1"/>
<rect x="548.6" y="247.29" width="6" height="6" fill="#000080"/>
<line x1="558.78" y1="273.65" x2="573.72" y2="273.65" stroke="#000080" stroke-width="2.1"/>
<rect x="564.14" y="270.65" width="6" height="6" fill="#000080"/>
<line x1="574.32" y1="285.8" x2="589.26" y2="285.8" stroke="#000080" stroke-width="2.1"/>
<rect x="579.68" y="282.8" width="6" height="6" fill="#000080"/>
<line x1="589.86" y1="291.87" x2="604.8" y2="291.87" stroke="#000080" stroke-width="2.1"/>
<rect x="595.22" y="288.87" width="6" height="6" fill="#000080"/>
<line x1="605.4" y1="288.6" x2="620.34" y2="288.6" stroke="#000080" stroke-width="2.1"/>
<rect x="610.76" y="285.6" width="6" height="6" fill="#000080"/>
<line x1="620.94" y1="284.63" x2="635.88" y2="284.63" stroke="#000080" stroke-width="2.1"/>
<rect x="626.3" y="281.63" width="6" height="6" fill="#000080"/>
<line x1="636.48" y1="283.23" x2="651.42" y2="283.23" stroke="#000080" stroke-width="2.1"/>
<rect x="641.84" y="280.23" width="6" height="6" fill="#000080"/>
<line x1="652.02" y1="274.12" x2="666.96" y2="274.12" stroke="#000080" stroke-width="2.1"/>
<line x1="660.38" y1="269.45" x2="660.38" y2="278.79" stroke="#000080" stroke-width="2.1"/>
<rect x="657.38" y="271.12" width="6" height="6" fill="#000080"/>
<line x1="667.56" y1="277.15" x2="682.5" y2="277.15" stroke="#000080" stroke-width="2.1"/>
<line x1="675.92" y1="268.28" x2="675.92" y2="286.26" stroke="#000080" stroke-width="2.1"/>
<rect x="672.92" y="274.15" width="6" height="6" fill="#000080"/>
</g>
<path d="M527.4 313.85h2.3M682.8 313.85h-2.3M527.4 308.98h2.3M682.8 308.98h-2.3M527.4 304.11h2.3M682.8 304.11h-2.3M527.4 299.24h4.6M682.8 299.24h-4.6M527.4 294.37h2.3M682.8 294.37h-2.3M527.4 289.5h2.3M682.8 289.5h-2.3M527.4 284.63h2.3M682.8 284.63h-2.3M527.4 279.76h4.6M682.8 279.76h-4.6M527.4 274.89h2.3M682.8 274.89h-2.3M527.4 270.02h2.3M682.8 270.02h-2.3M527.4 265.15h2.3M682.8 265.15h-2.3M527.4 260.28h4.6M682.8 260.28h-4.6M527.4 255.41h2.3M682.8 255.41h-2.3M527.4 250.54h2.3M682.8 250.54h-2.3M527.4 245.67h2.3M682.8 245.67h-2.3M527.4 240.8h4.6M682.8 240.8h-4.6M527.4 235.93h2.3M682.8 235.93h-2.3M527.4 231.06h2.3M682.8 231.06h-2.3M527.4 226.19h2.3M682.8 226.19h-2.3M527.4 221.32h4.6M682.8 221.32h-4.6M527.4 216.45h2.3M682.8 216.45h-2.3M527.4 211.58h2.3M682.8 211.58h-2.3M527.4 206.71h2.3M682.8 206.71h-2.3M527.4 201.84h4.6M682.8 201.84h-4.6M527.4 196.97h2.3M682.8 196.97h-2.3M527.4 192.1h2.3M682.8 192.1h-2.3M527.4 187.23h2.3M682.8 187.23h-2.3M527.4 182.36h4.6M682.8 182.36h-4.6M527.4 177.49h2.3M682.8 177.49h-2.3M527.4 172.62h2.3M682.8 172.62h-2.3M527.4 167.75h2.3M682.8 167.75h-2.3M550.79 317.45v-2.4M550.79 163.85v2.4M564.47 317.45v-2.4M564.47 163.85v2.4M574.18 317.45v-2.4M574.18 163.85v2.4M581.71 317.45v-2.4M581.71 163.85v2.4M587.86 317.45v-2.4M587.86 163.85v2.4M593.06 317.45v-2.4M593.06 163.85v2.4M597.57 317.45v-2.4M597.57 163.85v2.4M601.54 317.45v-2.4M601.54 163.85v2.4M605.1 317.45v-4.6M605.1 163.85v4.6M628.49 317.45v-2.4M628.49 163.85v2.4M642.17 317.45v-2.4M642.17 163.85v2.4M651.88 317.45v-2.4M651.88 163.85v2.4M659.41 317.45v-2.4M659.41 163.85v2.4M665.56 317.45v-2.4M665.56 163.85v2.4M670.76 317.45v-2.4M670.76 163.85v2.4M675.27 317.45v-2.4M675.27 163.85v2.4M679.24 317.45v-2.4M679.24 163.85v2.4" stroke="#000" stroke-width="1.1" fill="none"/>
<rect x="527.4" y="163.85" width="155.4" height="153.6" fill="none" stroke="#000" stroke-width="1.35"/>
</g>
<g>
<clipPath id="cp20"><rect x="39.6" y="324.6" width="155.4" height="153.6"/></clipPath>
<g clip-path="url(#cp20)">
<rect x="39.6" y="391.2" width="15.54" height="8.88" fill="#dedef8"/>
<rect x="55.14" y="408.96" width="15.54" height="5.61" fill="#dedef8"/>
<rect x="70.68" y="435.12" width="15.54" height="4.67" fill="#dedef8"/>
<rect x="86.22" y="447.96" width="15.54" height="4.91" fill="#dedef8"/>
<rect x="101.76" y="448.66" width="15.54" height="5.14" fill="#dedef8"/>
<rect x="117.3" y="446.33" width="15.54" height="5.14" fill="#dedef8"/>
<rect x="132.84" y="441.19" width="15.54" height="5.14" fill="#dedef8"/>
<rect x="148.38" y="440.49" width="15.54" height="5.14" fill="#dedef8"/>
<rect x="163.92" y="428.11" width="15.54" height="7.01" fill="#dedef8"/>
<rect x="179.46" y="407.09" width="15.54" height="15.88" fill="#dedef8"/>
<line x1="43.6" y1="440.51" x2="195" y2="440.51" stroke="#6a6a6a" stroke-width="1.3" stroke-dasharray="1.6 2.0"/>
<line x1="39.9" y1="394.47" x2="54.84" y2="394.47" stroke="#000080" stroke-width="2.1"/>
<rect x="45.26" y="391.47" width="6" height="6" fill="#000080"/>
<line x1="55.44" y1="411.53" x2="70.38" y2="411.53" stroke="#000080" stroke-width="2.1"/>
<rect x="60.8" y="408.53" width="6" height="6" fill="#000080"/>
<line x1="70.98" y1="437.45" x2="85.92" y2="437.45" stroke="#000080" stroke-width="2.1"/>
<rect x="76.34" y="434.45" width="6" height="6" fill="#000080"/>
<line x1="86.52" y1="450.3" x2="101.46" y2="450.3" stroke="#000080" stroke-width="2.1"/>
<rect x="91.88" y="447.3" width="6" height="6" fill="#000080"/>
<line x1="102.06" y1="451.23" x2="117" y2="451.23" stroke="#000080" stroke-width="2.1"/>
<rect x="107.42" y="448.23" width="6" height="6" fill="#000080"/>
<line x1="117.6" y1="448.66" x2="132.54" y2="448.66" stroke="#000080" stroke-width="2.1"/>
<rect x="122.96" y="445.66" width="6" height="6" fill="#000080"/>
<line x1="133.14" y1="443.76" x2="148.08" y2="443.76" stroke="#000080" stroke-width="2.1"/>
<rect x="138.5" y="440.76" width="6" height="6" fill="#000080"/>
<line x1="148.68" y1="443.06" x2="163.62" y2="443.06" stroke="#000080" stroke-width="2.1"/>
<rect x="154.04" y="440.06" width="6" height="6" fill="#000080"/>
<line x1="164.22" y1="431.61" x2="179.16" y2="431.61" stroke="#000080" stroke-width="2.1"/>
<rect x="169.58" y="428.61" width="6" height="6" fill="#000080"/>
<line x1="179.76" y1="416.43" x2="194.7" y2="416.43" stroke="#000080" stroke-width="2.1"/>
<line x1="188.12" y1="409.42" x2="188.12" y2="423.44" stroke="#000080" stroke-width="2.1"/>
<rect x="185.12" y="413.43" width="6" height="6" fill="#000080"/>
</g>
<path d="M39.6 474.6h2.3M195 474.6h-2.3M39.6 469.73h2.3M195 469.73h-2.3M39.6 464.86h2.3M195 464.86h-2.3M39.6 459.99h4.6M195 459.99h-4.6M39.6 455.12h2.3M195 455.12h-2.3M39.6 450.25h2.3M195 450.25h-2.3M39.6 445.38h2.3M195 445.38h-2.3M39.6 440.51h4.6M195 440.51h-4.6M39.6 435.64h2.3M195 435.64h-2.3M39.6 430.77h2.3M195 430.77h-2.3M39.6 425.9h2.3M195 425.9h-2.3M39.6 421.03h4.6M195 421.03h-4.6M39.6 416.16h2.3M195 416.16h-2.3M39.6 411.29h2.3M195 411.29h-2.3M39.6 406.42h2.3M195 406.42h-2.3M39.6 401.55h4.6M195 401.55h-4.6M39.6 396.68h2.3M195 396.68h-2.3M39.6 391.81h2.3M195 391.81h-2.3M39.6 386.94h2.3M195 386.94h-2.3M39.6 382.07h4.6M195 382.07h-4.6M39.6 377.2h2.3M195 377.2h-2.3M39.6 372.33h2.3M195 372.33h-2.3M39.6 367.46h2.3M195 367.46h-2.3M39.6 362.59h4.6M195 362.59h-4.6M39.6 357.72h2.3M195 357.72h-2.3M39.6 352.85h2.3M195 352.85h-2.3M39.6 347.98h2.3M195 347.98h-2.3M39.6 343.11h4.6M195 343.11h-4.6M39.6 338.24h2.3M195 338.24h-2.3M39.6 333.37h2.3M195 333.37h-2.3M39.6 328.5h2.3M195 328.5h-2.3M62.99 478.2v-2.4M62.99 324.6v2.4M76.67 478.2v-2.4M76.67 324.6v2.4M86.38 478.2v-2.4M86.38 324.6v2.4M93.91 478.2v-2.4M93.91 324.6v2.4M100.06 478.2v-2.4M100.06 324.6v2.4M105.26 478.2v-2.4M105.26 324.6v2.4M109.77 478.2v-2.4M109.77 324.6v2.4M113.74 478.2v-2.4M113.74 324.6v2.4M117.3 478.2v-4.6M117.3 324.6v4.6M140.69 478.2v-2.4M140.69 324.6v2.4M154.37 478.2v-2.4M154.37 324.6v2.4M164.08 478.2v-2.4M164.08 324.6v2.4M171.61 478.2v-2.4M171.61 324.6v2.4M177.76 478.2v-2.4M177.76 324.6v2.4M182.96 478.2v-2.4M182.96 324.6v2.4M187.47 478.2v-2.4M187.47 324.6v2.4M191.44 478.2v-2.4M191.44 324.6v2.4" stroke="#000" stroke-width="1.1" fill="none"/>
<rect x="39.6" y="324.6" width="155.4" height="153.6" fill="none" stroke="#000" stroke-width="1.35"/>
</g>
<g>
<clipPath id="cp21"><rect x="202.2" y="324.6" width="155.4" height="153.6"/></clipPath>
<g clip-path="url(#cp21)">
<rect x="202.2" y="393.07" width="15.54" height="17.52" fill="#dedef8"/>
<rect x="217.74" y="407.55" width="15.54" height="6.07" fill="#dedef8"/>
<rect x="233.28" y="437.45" width="15.54" height="4.67" fill="#dedef8"/>
<rect x="248.82" y="447.5" width="15.54" height="5.14" fill="#dedef8"/>
<rect x="264.36" y="450.3" width="15.54" height="5.37" fill="#dedef8"/>
<rect x="279.9" y="450.3" width="15.54" height="5.37" fill="#dedef8"/>
<rect x="295.44" y="441.66" width="15.54" height="5.14" fill="#dedef8"/>
<rect x="310.98" y="435.12" width="15.54" height="9.34" fill="#dedef8"/>
<rect x="326.52" y="418.77" width="15.54" height="11.68" fill="#dedef8"/>
<rect x="342.06" y="389.57" width="15.54" height="25.69" fill="#dedef8"/>
<line x1="206.2" y1="440.51" x2="357.6" y2="440.51" stroke="#6a6a6a" stroke-width="1.3" stroke-dasharray="1.6 2.0"/>
<line x1="202.5" y1="398.68" x2="217.44" y2="398.68" stroke="#000080" stroke-width="2.1"/>
<line x1="210.86" y1="393.54" x2="210.86" y2="403.58" stroke="#000080" stroke-width="2.1"/>
<rect x="207.86" y="395.68" width="6" height="6" fill="#000080"/>
<line x1="218.04" y1="410.59" x2="232.98" y2="410.59" stroke="#000080" stroke-width="2.1"/>
<line x1="226.4" y1="407.55" x2="226.4" y2="413.63" stroke="#000080" stroke-width="2.1"/>
<rect x="223.4" y="407.59" width="6" height="6" fill="#000080"/>
<line x1="233.58" y1="439.79" x2="248.52" y2="439.79" stroke="#000080" stroke-width="2.1"/>
<rect x="238.94" y="436.79" width="6" height="6" fill="#000080"/>
<line x1="249.12" y1="449.83" x2="264.06" y2="449.83" stroke="#000080" stroke-width="2.1"/>
<rect x="254.48" y="446.83" width="6" height="6" fill="#000080"/>
<line x1="264.66" y1="452.87" x2="279.6" y2="452.87" stroke="#000080" stroke-width="2.1"/>
<rect x="270.02" y="449.87" width="6" height="6" fill="#000080"/>
<line x1="280.2" y1="452.87" x2="295.14" y2="452.87" stroke="#000080" stroke-width="2.1"/>
<rect x="285.56" y="449.87" width="6" height="6" fill="#000080"/>
<line x1="295.74" y1="444.23" x2="310.68" y2="444.23" stroke="#000080" stroke-width="2.1"/>
<rect x="301.1" y="441.23" width="6" height="6" fill="#000080"/>
<line x1="311.28" y1="440.96" x2="326.22" y2="440.96" stroke="#000080" stroke-width="2.1"/>
<line x1="319.64" y1="436.28" x2="319.64" y2="444.93" stroke="#000080" stroke-width="2.1"/>
<rect x="316.64" y="437.96" width="6" height="6" fill="#000080"/>
<line x1="326.82" y1="423.44" x2="341.76" y2="423.44" stroke="#000080" stroke-width="2.1"/>
<line x1="335.18" y1="416.43" x2="335.18" y2="430.91" stroke="#000080" stroke-width="2.1"/>
<rect x="332.18" y="420.44" width="6" height="6" fill="#000080"/>
<line x1="342.36" y1="407.55" x2="357.3" y2="407.55" stroke="#000080" stroke-width="2.1"/>
<line x1="350.72" y1="392.61" x2="350.72" y2="422.97" stroke="#000080" stroke-width="2.1"/>
<rect x="347.72" y="404.55" width="6" height="6" fill="#000080"/>
</g>
<path d="M202.2 474.6h2.3M357.6 474.6h-2.3M202.2 469.73h2.3M357.6 469.73h-2.3M202.2 464.86h2.3M357.6 464.86h-2.3M202.2 459.99h4.6M357.6 459.99h-4.6M202.2 455.12h2.3M357.6 455.12h-2.3M202.2 450.25h2.3M357.6 450.25h-2.3M202.2 445.38h2.3M357.6 445.38h-2.3M202.2 440.51h4.6M357.6 440.51h-4.6M202.2 435.64h2.3M357.6 435.64h-2.3M202.2 430.77h2.3M357.6 430.77h-2.3M202.2 425.9h2.3M357.6 425.9h-2.3M202.2 421.03h4.6M357.6 421.03h-4.6M202.2 416.16h2.3M357.6 416.16h-2.3M202.2 411.29h2.3M357.6 411.29h-2.3M202.2 406.42h2.3M357.6 406.42h-2.3M202.2 401.55h4.6M357.6 401.55h-4.6M202.2 396.68h2.3M357.6 396.68h-2.3M202.2 391.81h2.3M357.6 391.81h-2.3M202.2 386.94h2.3M357.6 386.94h-2.3M202.2 382.07h4.6M357.6 382.07h-4.6M202.2 377.2h2.3M357.6 377.2h-2.3M202.2 372.33h2.3M357.6 372.33h-2.3M202.2 367.46h2.3M357.6 367.46h-2.3M202.2 362.59h4.6M357.6 362.59h-4.6M202.2 357.72h2.3M357.6 357.72h-2.3M202.2 352.85h2.3M357.6 352.85h-2.3M202.2 347.98h2.3M357.6 347.98h-2.3M202.2 343.11h4.6M357.6 343.11h-4.6M202.2 338.24h2.3M357.6 338.24h-2.3M202.2 333.37h2.3M357.6 333.37h-2.3M202.2 328.5h2.3M357.6 328.5h-2.3M225.59 478.2v-2.4M225.59 324.6v2.4M239.27 478.2v-2.4M239.27 324.6v2.4M248.98 478.2v-2.4M248.98 324.6v2.4M256.51 478.2v-2.4M256.51 324.6v2.4M262.66 478.2v-2.4M262.66 324.6v2.4M267.86 478.2v-2.4M267.86 324.6v2.4M272.37 478.2v-2.4M272.37 324.6v2.4M276.34 478.2v-2.4M276.34 324.6v2.4M279.9 478.2v-4.6M279.9 324.6v4.6M303.29 478.2v-2.4M303.29 324.6v2.4M316.97 478.2v-2.4M316.97 324.6v2.4M326.68 478.2v-2.4M326.68 324.6v2.4M334.21 478.2v-2.4M334.21 324.6v2.4M340.36 478.2v-2.4M340.36 324.6v2.4M345.56 478.2v-2.4M345.56 324.6v2.4M350.07 478.2v-2.4M350.07 324.6v2.4M354.04 478.2v-2.4M354.04 324.6v2.4" stroke="#000" stroke-width="1.1" fill="none"/>
<rect x="202.2" y="324.6" width="155.4" height="153.6" fill="none" stroke="#000" stroke-width="1.35"/>
</g>
<g>
<clipPath id="cp22"><rect x="364.8" y="324.6" width="155.4" height="153.6"/></clipPath>
<g clip-path="url(#cp22)">
<rect x="364.8" y="381.39" width="15.54" height="10.51" fill="#dedef8"/>
<rect x="380.34" y="400.55" width="15.54" height="10.74" fill="#dedef8"/>
<rect x="395.88" y="435.58" width="15.54" height="4.67" fill="#dedef8"/>
<rect x="411.42" y="446.33" width="15.54" height="5.14" fill="#dedef8"/>
<rect x="426.96" y="449.13" width="15.54" height="5.14" fill="#dedef8"/>
<rect x="442.5" y="442.59" width="15.54" height="5.37" fill="#dedef8"/>
<rect x="458.04" y="437.45" width="15.54" height="5.14" fill="#dedef8"/>
<rect x="473.58" y="439.79" width="15.54" height="5.84" fill="#dedef8"/>
<rect x="489.12" y="425.31" width="15.54" height="11.68" fill="#dedef8"/>
<rect x="504.66" y="397.28" width="15.54" height="23.82" fill="#dedef8"/>
<line x1="368.8" y1="440.51" x2="520.2" y2="440.51" stroke="#6a6a6a" stroke-width="1.3" stroke-dasharray="1.6 2.0"/>
<line x1="365.1" y1="384.9" x2="380.04" y2="384.9" stroke="#000080" stroke-width="2.1"/>
<line x1="373.46" y1="381.39" x2="373.46" y2="389.57" stroke="#000080" stroke-width="2.1"/>
<rect x="370.46" y="381.9" width="6" height="6" fill="#000080"/>
<line x1="380.64" y1="404.05" x2="395.58" y2="404.05" stroke="#000080" stroke-width="2.1"/>
<rect x="386" y="401.05" width="6" height="6" fill="#000080"/>
<line x1="396.18" y1="437.92" x2="411.12" y2="437.92" stroke="#000080" stroke-width="2.1"/>
<rect x="401.54" y="434.92" width="6" height="6" fill="#000080"/>
<line x1="411.72" y1="448.9" x2="426.66" y2="448.9" stroke="#000080" stroke-width="2.1"/>
<rect x="417.08" y="445.9" width="6" height="6" fill="#000080"/>
<line x1="427.26" y1="451.7" x2="442.2" y2="451.7" stroke="#000080" stroke-width="2.1"/>
<rect x="432.62" y="448.7" width="6" height="6" fill="#000080"/>
<line x1="442.8" y1="445.16" x2="457.74" y2="445.16" stroke="#000080" stroke-width="2.1"/>
<rect x="448.16" y="442.16" width="6" height="6" fill="#000080"/>
<line x1="458.34" y1="440.02" x2="473.28" y2="440.02" stroke="#000080" stroke-width="2.1"/>
<rect x="463.7" y="437.02" width="6" height="6" fill="#000080"/>
<line x1="473.88" y1="442.59" x2="488.82" y2="442.59" stroke="#000080" stroke-width="2.1"/>
<rect x="479.24" y="439.59" width="6" height="6" fill="#000080"/>
<line x1="489.42" y1="431.38" x2="504.36" y2="431.38" stroke="#000080" stroke-width="2.1"/>
<line x1="497.78" y1="425.77" x2="497.78" y2="436.99" stroke="#000080" stroke-width="2.1"/>
<rect x="494.78" y="428.38" width="6" height="6" fill="#000080"/>
<line x1="504.96" y1="409.89" x2="519.9" y2="409.89" stroke="#000080" stroke-width="2.1"/>
<line x1="513.32" y1="398.21" x2="513.32" y2="421.1" stroke="#000080" stroke-width="2.1"/>
<rect x="510.32" y="406.89" width="6" height="6" fill="#000080"/>
</g>
<path d="M364.8 474.6h2.3M520.2 474.6h-2.3M364.8 469.73h2.3M520.2 469.73h-2.3M364.8 464.86h2.3M520.2 464.86h-2.3M364.8 459.99h4.6M520.2 459.99h-4.6M364.8 455.12h2.3M520.2 455.12h-2.3M364.8 450.25h2.3M520.2 450.25h-2.3M364.8 445.38h2.3M520.2 445.38h-2.3M364.8 440.51h4.6M520.2 440.51h-4.6M364.8 435.64h2.3M520.2 435.64h-2.3M364.8 430.77h2.3M520.2 430.77h-2.3M364.8 425.9h2.3M520.2 425.9h-2.3M364.8 421.03h4.6M520.2 421.03h-4.6M364.8 416.16h2.3M520.2 416.16h-2.3M364.8 411.29h2.3M520.2 411.29h-2.3M364.8 406.42h2.3M520.2 406.42h-2.3M364.8 401.55h4.6M520.2 401.55h-4.6M364.8 396.68h2.3M520.2 396.68h-2.3M364.8 391.81h2.3M520.2 391.81h-2.3M364.8 386.94h2.3M520.2 386.94h-2.3M364.8 382.07h4.6M520.2 382.07h-4.6M364.8 377.2h2.3M520.2 377.2h-2.3M364.8 372.33h2.3M520.2 372.33h-2.3M364.8 367.46h2.3M520.2 367.46h-2.3M364.8 362.59h4.6M520.2 362.59h-4.6M364.8 357.72h2.3M520.2 357.72h-2.3M364.8 352.85h2.3M520.2 352.85h-2.3M364.8 347.98h2.3M520.2 347.98h-2.3M364.8 343.11h4.6M520.2 343.11h-4.6M364.8 338.24h2.3M520.2 338.24h-2.3M364.8 333.37h2.3M520.2 333.37h-2.3M364.8 328.5h2.3M520.2 328.5h-2.3M388.19 478.2v-2.4M388.19 324.6v2.4M401.87 478.2v-2.4M401.87 324.6v2.4M411.58 478.2v-2.4M411.58 324.6v2.4M419.11 478.2v-2.4M419.11 324.6v2.4M425.26 478.2v-2.4M425.26 324.6v2.4M430.46 478.2v-2.4M430.46 324.6v2.4M434.97 478.2v-2.4M434.97 324.6v2.4M438.94 478.2v-2.4M438.94 324.6v2.4M442.5 478.2v-4.6M442.5 324.6v4.6M465.89 478.2v-2.4M465.89 324.6v2.4M479.57 478.2v-2.4M479.57 324.6v2.4M489.28 478.2v-2.4M489.28 324.6v2.4M496.81 478.2v-2.4M496.81 324.6v2.4M502.96 478.2v-2.4M502.96 324.6v2.4M508.16 478.2v-2.4M508.16 324.6v2.4M512.67 478.2v-2.4M512.67 324.6v2.4M516.64 478.2v-2.4M516.64 324.6v2.4" stroke="#000" stroke-width="1.1" fill="none"/>
<rect x="364.8" y="324.6" width="155.4" height="153.6" fill="none" stroke="#000" stroke-width="1.35"/>
</g>
<g>
<clipPath id="cp23"><rect x="527.4" y="324.6" width="155.4" height="153.6"/></clipPath>
<g clip-path="url(#cp23)">
<rect x="527.4" y="398.91" width="15.54" height="11.68" fill="#dedef8"/>
<rect x="542.94" y="419.93" width="15.54" height="7.71" fill="#dedef8"/>
<rect x="558.48" y="429.98" width="15.54" height="5.14" fill="#dedef8"/>
<rect x="574.02" y="450.53" width="15.54" height="5.61" fill="#dedef8"/>
<rect x="589.56" y="446.8" width="15.54" height="5.14" fill="#dedef8"/>
<rect x="605.1" y="447.26" width="15.54" height="5.37" fill="#dedef8"/>
<rect x="620.64" y="445.39" width="15.54" height="5.61" fill="#dedef8"/>
<rect x="636.18" y="440.96" width="15.54" height="5.84" fill="#dedef8"/>
<rect x="651.72" y="426.94" width="15.54" height="12.85" fill="#dedef8"/>
<rect x="667.26" y="412.93" width="15.54" height="16.35" fill="#dedef8"/>
<line x1="531.4" y1="440.51" x2="682.8" y2="440.51" stroke="#6a6a6a" stroke-width="1.3" stroke-dasharray="1.6 2.0"/>
<line x1="527.7" y1="404.75" x2="542.64" y2="404.75" stroke="#000080" stroke-width="2.1"/>
<line x1="536.06" y1="398.91" x2="536.06" y2="411.29" stroke="#000080" stroke-width="2.1"/>
<rect x="533.06" y="401.75" width="6" height="6" fill="#000080"/>
<line x1="543.24" y1="423.44" x2="558.18" y2="423.44" stroke="#000080" stroke-width="2.1"/>
<line x1="551.6" y1="420.64" x2="551.6" y2="426.94" stroke="#000080" stroke-width="2.1"/>
<rect x="548.6" y="420.44" width="6" height="6" fill="#000080"/>
<line x1="558.78" y1="432.31" x2="573.72" y2="432.31" stroke="#000080" stroke-width="2.1"/>
<rect x="564.14" y="429.31" width="6" height="6" fill="#000080"/>
<line x1="574.32" y1="453.34" x2="589.26" y2="453.34" stroke="#000080" stroke-width="2.1"/>
<rect x="579.68" y="450.34" width="6" height="6" fill="#000080"/>
<line x1="589.86" y1="449.13" x2="604.8" y2="449.13" stroke="#000080" stroke-width="2.1"/>
<rect x="595.22" y="446.13" width="6" height="6" fill="#000080"/>
<line x1="605.4" y1="449.83" x2="620.34" y2="449.83" stroke="#000080" stroke-width="2.1"/>
<rect x="610.76" y="446.83" width="6" height="6" fill="#000080"/>
<line x1="620.94" y1="447.96" x2="635.88" y2="447.96" stroke="#000080" stroke-width="2.1"/>
<rect x="626.3" y="444.96" width="6" height="6" fill="#000080"/>
<line x1="636.48" y1="443.76" x2="651.42" y2="443.76" stroke="#000080" stroke-width="2.1"/>
<rect x="641.84" y="440.76" width="6" height="6" fill="#000080"/>
<line x1="652.02" y1="434.65" x2="666.96" y2="434.65" stroke="#000080" stroke-width="2.1"/>
<line x1="660.38" y1="428.58" x2="660.38" y2="440.96" stroke="#000080" stroke-width="2.1"/>
<rect x="657.38" y="431.65" width="6" height="6" fill="#000080"/>
<line x1="667.56" y1="421.1" x2="682.5" y2="421.1" stroke="#000080" stroke-width="2.1"/>
<line x1="675.92" y1="408.96" x2="675.92" y2="433.95" stroke="#000080" stroke-width="2.1"/>
<rect x="672.92" y="418.1" width="6" height="6" fill="#000080"/>
</g>
<path d="M527.4 474.6h2.3M682.8 474.6h-2.3M527.4 469.73h2.3M682.8 469.73h-2.3M527.4 464.86h2.3M682.8 464.86h-2.3M527.4 459.99h4.6M682.8 459.99h-4.6M527.4 455.12h2.3M682.8 455.12h-2.3M527.4 450.25h2.3M682.8 450.25h-2.3M527.4 445.38h2.3M682.8 445.38h-2.3M527.4 440.51h4.6M682.8 440.51h-4.6M527.4 435.64h2.3M682.8 435.64h-2.3M527.4 430.77h2.3M682.8 430.77h-2.3M527.4 425.9h2.3M682.8 425.9h-2.3M527.4 421.03h4.6M682.8 421.03h-4.6M527.4 416.16h2.3M682.8 416.16h-2.3M527.4 411.29h2.3M682.8 411.29h-2.3M527.4 406.42h2.3M682.8 406.42h-2.3M527.4 401.55h4.6M682.8 401.55h-4.6M527.4 396.68h2.3M682.8 396.68h-2.3M527.4 391.81h2.3M682.8 391.81h-2.3M527.4 386.94h2.3M682.8 386.94h-2.3M527.4 382.07h4.6M682.8 382.07h-4.6M527.4 377.2h2.3M682.8 377.2h-2.3M527.4 372.33h2.3M682.8 372.33h-2.3M527.4 367.46h2.3M682.8 367.46h-2.3M527.4 362.59h4.6M682.8 362.59h-4.6M527.4 357.72h2.3M682.8 357.72h-2.3M527.4 352.85h2.3M682.8 352.85h-2.3M527.4 347.98h2.3M682.8 347.98h-2.3M527.4 343.11h4.6M682.8 343.11h-4.6M527.4 338.24h2.3M682.8 338.24h-2.3M527.4 333.37h2.3M682.8 333.37h-2.3M527.4 328.5h2.3M682.8 328.5h-2.3M550.79 478.2v-2.4M550.79 324.6v2.4M564.47 478.2v-2.4M564.47 324.6v2.4M574.18 478.2v-2.4M574.18 324.6v2.4M581.71 478.2v-2.4M581.71 324.6v2.4M587.86 478.2v-2.4M587.86 324.6v2.4M593.06 478.2v-2.4M593.06 324.6v2.4M597.57 478.2v-2.4M597.57 324.6v2.4M601.54 478.2v-2.4M601.54 324.6v2.4M605.1 478.2v-4.6M605.1 324.6v4.6M628.49 478.2v-2.4M628.49 324.6v2.4M642.17 478.2v-2.4M642.17 324.6v2.4M651.88 478.2v-2.4M651.88 324.6v2.4M659.41 478.2v-2.4M659.41 324.6v2.4M665.56 478.2v-2.4M665.56 324.6v2.4M670.76 478.2v-2.4M670.76 324.6v2.4M675.27 478.2v-2.4M675.27 324.6v2.4M679.24 478.2v-2.4M679.24 324.6v2.4" stroke="#000" stroke-width="1.1" fill="none"/>
<rect x="527.4" y="324.6" width="155.4" height="153.6" fill="none" stroke="#000" stroke-width="1.35"/>
</g>
<g>
<clipPath id="cp30"><rect x="39.6" y="485.35" width="155.4" height="153.6"/></clipPath>
<g clip-path="url(#cp30)">
<rect x="39.6" y="584.44" width="15.54" height="8.88" fill="#dedef8"/>
<rect x="55.14" y="592.61" width="15.54" height="5.84" fill="#dedef8"/>
<rect x="70.68" y="601.96" width="15.54" height="4.91" fill="#dedef8"/>
<rect x="86.22" y="602.42" width="15.54" height="4.91" fill="#dedef8"/>
<rect x="101.76" y="604.06" width="15.54" height="4.91" fill="#dedef8"/>
<rect x="117.3" y="600.79" width="15.54" height="5.14" fill="#dedef8"/>
<rect x="132.84" y="597.52" width="15.54" height="5.61" fill="#dedef8"/>
<rect x="148.38" y="601.96" width="15.54" height="5.84" fill="#dedef8"/>
<rect x="163.92" y="593.78" width="15.54" height="7.01" fill="#dedef8"/>
<rect x="179.46" y="586.31" width="15.54" height="24.99" fill="#dedef8"/>
<line x1="43.6" y1="601.26" x2="195" y2="601.26" stroke="#6a6a6a" stroke-width="1.3" stroke-dasharray="1.6 2.0"/>
<line x1="39.9" y1="589.11" x2="54.84" y2="589.11" stroke="#000080" stroke-width="2.1"/>
<line x1="48.26" y1="586.31" x2="48.26" y2="591.91" stroke="#000080" stroke-width="2.1"/>
<rect x="45.26" y="586.11" width="6" height="6" fill="#000080"/>
<line x1="55.44" y1="595.42" x2="70.38" y2="595.42" stroke="#000080" stroke-width="2.1"/>
<rect x="60.8" y="592.42" width="6" height="6" fill="#000080"/>
<line x1="70.98" y1="604.29" x2="85.92" y2="604.29" stroke="#000080" stroke-width="2.1"/>
<rect x="76.34" y="601.29" width="6" height="6" fill="#000080"/>
<line x1="86.52" y1="604.76" x2="101.46" y2="604.76" stroke="#000080" stroke-width="2.1"/>
<rect x="91.88" y="601.76" width="6" height="6" fill="#000080"/>
<line x1="102.06" y1="606.39" x2="117" y2="606.39" stroke="#000080" stroke-width="2.1"/>
<rect x="107.42" y="603.39" width="6" height="6" fill="#000080"/>
<line x1="117.6" y1="603.36" x2="132.54" y2="603.36" stroke="#000080" stroke-width="2.1"/>
<rect x="122.96" y="600.36" width="6" height="6" fill="#000080"/>
<line x1="133.14" y1="600.09" x2="148.08" y2="600.09" stroke="#000080" stroke-width="2.1"/>
<line x1="141.5" y1="597.52" x2="141.5" y2="603.12" stroke="#000080" stroke-width="2.1"/>
<rect x="138.5" y="597.09" width="6" height="6" fill="#000080"/>
<line x1="148.68" y1="604.53" x2="163.62" y2="604.53" stroke="#000080" stroke-width="2.1"/>
<line x1="157.04" y1="600.79" x2="157.04" y2="608.26" stroke="#000080" stroke-width="2.1"/>
<rect x="154.04" y="601.53" width="6" height="6" fill="#000080"/>
<line x1="164.22" y1="597.05" x2="179.16" y2="597.05" stroke="#000080" stroke-width="2.1"/>
<line x1="172.58" y1="590.28" x2="172.58" y2="604.99" stroke="#000080" stroke-width="2.1"/>
<rect x="169.58" y="594.05" width="6" height="6" fill="#000080"/>
<line x1="179.76" y1="594.95" x2="194.7" y2="594.95" stroke="#000080" stroke-width="2.1"/>
<line x1="188.12" y1="580.93" x2="188.12" y2="610.13" stroke="#000080" stroke-width="2.1"/>
<rect x="185.12" y="591.95" width="6" height="6" fill="#000080"/>
</g>
<path d="M39.6 635.35h2.3M195 635.35h-2.3M39.6 630.48h2.3M195 630.48h-2.3M39.6 625.61h2.3M195 625.61h-2.3M39.6 620.74h4.6M195 620.74h-4.6M39.6 615.87h2.3M195 615.87h-2.3M39.6 611h2.3M195 611h-2.3M39.6 606.13h2.3M195 606.13h-2.3M39.6 601.26h4.6M195 601.26h-4.6M39.6 596.39h2.3M195 596.39h-2.3M39.6 591.52h2.3M195 591.52h-2.3M39.6 586.65h2.3M195 586.65h-2.3M39.6 581.78h4.6M195 581.78h-4.6M39.6 576.91h2.3M195 576.91h-2.3M39.6 572.04h2.3M195 572.04h-2.3M39.6 567.17h2.3M195 567.17h-2.3M39.6 562.3h4.6M195 562.3h-4.6M39.6 557.43h2.3M195 557.43h-2.3M39.6 552.56h2.3M195 552.56h-2.3M39.6 547.69h2.3M195 547.69h-2.3M39.6 542.82h4.6M195 542.82h-4.6M39.6 537.95h2.3M195 537.95h-2.3M39.6 533.08h2.3M195 533.08h-2.3M39.6 528.21h2.3M195 528.21h-2.3M39.6 523.34h4.6M195 523.34h-4.6M39.6 518.47h2.3M195 518.47h-2.3M39.6 513.6h2.3M195 513.6h-2.3M39.6 508.73h2.3M195 508.73h-2.3M39.6 503.86h4.6M195 503.86h-4.6M39.6 498.99h2.3M195 498.99h-2.3M39.6 494.12h2.3M195 494.12h-2.3M39.6 489.25h2.3M195 489.25h-2.3M62.99 638.95v-2.4M62.99 485.35v2.4M76.67 638.95v-2.4M76.67 485.35v2.4M86.38 638.95v-2.4M86.38 485.35v2.4M93.91 638.95v-2.4M93.91 485.35v2.4M100.06 638.95v-2.4M100.06 485.35v2.4M105.26 638.95v-2.4M105.26 485.35v2.4M109.77 638.95v-2.4M109.77 485.35v2.4M113.74 638.95v-2.4M113.74 485.35v2.4M117.3 638.95v-4.6M117.3 485.35v4.6M140.69 638.95v-2.4M140.69 485.35v2.4M154.37 638.95v-2.4M154.37 485.35v2.4M164.08 638.95v-2.4M164.08 485.35v2.4M171.61 638.95v-2.4M171.61 485.35v2.4M177.76 638.95v-2.4M177.76 485.35v2.4M182.96 638.95v-2.4M182.96 485.35v2.4M187.47 638.95v-2.4M187.47 485.35v2.4M191.44 638.95v-2.4M191.44 485.35v2.4" stroke="#000" stroke-width="1.1" fill="none"/>
<rect x="39.6" y="485.35" width="155.4" height="153.6" fill="none" stroke="#000" stroke-width="1.35"/>
</g>
<g>
<clipPath id="cp31"><rect x="202.2" y="485.35" width="155.4" height="153.6"/></clipPath>
<g clip-path="url(#cp31)">
<rect x="202.2" y="582.1" width="15.54" height="9.81" fill="#dedef8"/>
<rect x="217.74" y="588.64" width="15.54" height="6.31" fill="#dedef8"/>
<rect x="233.28" y="592.61" width="15.54" height="7.01" fill="#dedef8"/>
<rect x="248.82" y="604.99" width="15.54" height="6.31" fill="#dedef8"/>
<rect x="264.36" y="594.95" width="15.54" height="5.84" fill="#dedef8"/>
<rect x="279.9" y="606.63" width="15.54" height="6.31" fill="#dedef8"/>
<rect x="295.44" y="600.32" width="15.54" height="6.31" fill="#dedef8"/>
<rect x="310.98" y="603.59" width="15.54" height="8.88" fill="#dedef8"/>
<rect x="326.52" y="592.61" width="15.54" height="18.69" fill="#dedef8"/>
<rect x="342.06" y="605.46" width="15.54" height="17.52" fill="#dedef8"/>
<line x1="206.2" y1="601.26" x2="357.6" y2="601.26" stroke="#6a6a6a" stroke-width="1.3" stroke-dasharray="1.6 2.0"/>
<line x1="202.5" y1="586.07" x2="217.44" y2="586.07" stroke="#000080" stroke-width="2.1"/>
<line x1="210.86" y1="579.77" x2="210.86" y2="592.61" stroke="#000080" stroke-width="2.1"/>
<rect x="207.86" y="583.07" width="6" height="6" fill="#000080"/>
<line x1="218.04" y1="591.45" x2="232.98" y2="591.45" stroke="#000080" stroke-width="2.1"/>
<line x1="226.4" y1="586.77" x2="226.4" y2="596.12" stroke="#000080" stroke-width="2.1"/>
<rect x="223.4" y="588.45" width="6" height="6" fill="#000080"/>
<line x1="233.58" y1="596.12" x2="248.52" y2="596.12" stroke="#000080" stroke-width="2.1"/>
<line x1="241.94" y1="591.91" x2="241.94" y2="600.32" stroke="#000080" stroke-width="2.1"/>
<rect x="238.94" y="593.12" width="6" height="6" fill="#000080"/>
<line x1="249.12" y1="607.8" x2="264.06" y2="607.8" stroke="#000080" stroke-width="2.1"/>
<line x1="257.48" y1="604.29" x2="257.48" y2="611.3" stroke="#000080" stroke-width="2.1"/>
<rect x="254.48" y="604.8" width="6" height="6" fill="#000080"/>
<line x1="264.66" y1="597.99" x2="279.6" y2="597.99" stroke="#000080" stroke-width="2.1"/>
<line x1="273.02" y1="593.31" x2="273.02" y2="602.66" stroke="#000080" stroke-width="2.1"/>
<rect x="270.02" y="594.99" width="6" height="6" fill="#000080"/>
<line x1="280.2" y1="609.43" x2="295.14" y2="609.43" stroke="#000080" stroke-width="2.1"/>
<line x1="288.56" y1="604.99" x2="288.56" y2="614.34" stroke="#000080" stroke-width="2.1"/>
<rect x="285.56" y="606.43" width="6" height="6" fill="#000080"/>
<line x1="295.74" y1="603.59" x2="310.68" y2="603.59" stroke="#000080" stroke-width="2.1"/>
<line x1="304.1" y1="597.28" x2="304.1" y2="610.13" stroke="#000080" stroke-width="2.1"/>
<rect x="301.1" y="600.59" width="6" height="6" fill="#000080"/>
<line x1="311.28" y1="608.26" x2="326.22" y2="608.26" stroke="#000080" stroke-width="2.1"/>
<line x1="319.64" y1="600.79" x2="319.64" y2="617.14" stroke="#000080" stroke-width="2.1"/>
<rect x="316.64" y="605.26" width="6" height="6" fill="#000080"/>
<line x1="326.82" y1="602.66" x2="341.76" y2="602.66" stroke="#000080" stroke-width="2.1"/>
<line x1="335.18" y1="588.64" x2="335.18" y2="617.61" stroke="#000080" stroke-width="2.1"/>
<rect x="332.18" y="599.66" width="6" height="6" fill="#000080"/>
<line x1="342.36" y1="612.47" x2="357.3" y2="612.47" stroke="#000080" stroke-width="2.1"/>
<line x1="350.72" y1="587.24" x2="350.72" y2="640.5" stroke="#000080" stroke-width="2.1"/>
<rect x="347.72" y="609.47" width="6" height="6" fill="#000080"/>
</g>
<path d="M202.2 635.35h2.3M357.6 635.35h-2.3M202.2 630.48h2.3M357.6 630.48h-2.3M202.2 625.61h2.3M357.6 625.61h-2.3M202.2 620.74h4.6M357.6 620.74h-4.6M202.2 615.87h2.3M357.6 615.87h-2.3M202.2 611h2.3M357.6 611h-2.3M202.2 606.13h2.3M357.6 606.13h-2.3M202.2 601.26h4.6M357.6 601.26h-4.6M202.2 596.39h2.3M357.6 596.39h-2.3M202.2 591.52h2.3M357.6 591.52h-2.3M202.2 586.65h2.3M357.6 586.65h-2.3M202.2 581.78h4.6M357.6 581.78h-4.6M202.2 576.91h2.3M357.6 576.91h-2.3M202.2 572.04h2.3M357.6 572.04h-2.3M202.2 567.17h2.3M357.6 567.17h-2.3M202.2 562.3h4.6M357.6 562.3h-4.6M202.2 557.43h2.3M357.6 557.43h-2.3M202.2 552.56h2.3M357.6 552.56h-2.3M202.2 547.69h2.3M357.6 547.69h-2.3M202.2 542.82h4.6M357.6 542.82h-4.6M202.2 537.95h2.3M357.6 537.95h-2.3M202.2 533.08h2.3M357.6 533.08h-2.3M202.2 528.21h2.3M357.6 528.21h-2.3M202.2 523.34h4.6M357.6 523.34h-4.6M202.2 518.47h2.3M357.6 518.47h-2.3M202.2 513.6h2.3M357.6 513.6h-2.3M202.2 508.73h2.3M357.6 508.73h-2.3M202.2 503.86h4.6M357.6 503.86h-4.6M202.2 498.99h2.3M357.6 498.99h-2.3M202.2 494.12h2.3M357.6 494.12h-2.3M202.2 489.25h2.3M357.6 489.25h-2.3M225.59 638.95v-2.4M225.59 485.35v2.4M239.27 638.95v-2.4M239.27 485.35v2.4M248.98 638.95v-2.4M248.98 485.35v2.4M256.51 638.95v-2.4M256.51 485.35v2.4M262.66 638.95v-2.4M262.66 485.35v2.4M267.86 638.95v-2.4M267.86 485.35v2.4M272.37 638.95v-2.4M272.37 485.35v2.4M276.34 638.95v-2.4M276.34 485.35v2.4M279.9 638.95v-4.6M279.9 485.35v4.6M303.29 638.95v-2.4M303.29 485.35v2.4M316.97 638.95v-2.4M316.97 485.35v2.4M326.68 638.95v-2.4M326.68 485.35v2.4M334.21 638.95v-2.4M334.21 485.35v2.4M340.36 638.95v-2.4M340.36 485.35v2.4M345.56 638.95v-2.4M345.56 485.35v2.4M350.07 638.95v-2.4M350.07 485.35v2.4M354.04 638.95v-2.4M354.04 485.35v2.4" stroke="#000" stroke-width="1.1" fill="none"/>
<rect x="202.2" y="485.35" width="155.4" height="153.6" fill="none" stroke="#000" stroke-width="1.35"/>
</g>
<g>
<clipPath id="cp32"><rect x="364.8" y="485.35" width="155.4" height="153.6"/></clipPath>
<g clip-path="url(#cp32)">
<rect x="364.8" y="573.93" width="15.54" height="15.18" fill="#dedef8"/>
<rect x="380.34" y="598.45" width="15.54" height="6.07" fill="#dedef8"/>
<rect x="395.88" y="604.99" width="15.54" height="5.61" fill="#dedef8"/>
<rect x="411.42" y="599.85" width="15.54" height="5.61" fill="#dedef8"/>
<rect x="426.96" y="611.3" width="15.54" height="5.84" fill="#dedef8"/>
<rect x="442.5" y="607.8" width="15.54" height="5.84" fill="#dedef8"/>
<rect x="458.04" y="595.65" width="15.54" height="7.94" fill="#dedef8"/>
<rect x="473.58" y="594.95" width="15.54" height="9.34" fill="#dedef8"/>
<rect x="489.12" y="581.64" width="15.54" height="14.48" fill="#dedef8"/>
<rect x="504.66" y="584.44" width="15.54" height="26.86" fill="#dedef8"/>
<line x1="368.8" y1="601.26" x2="520.2" y2="601.26" stroke="#6a6a6a" stroke-width="1.3" stroke-dasharray="1.6 2.0"/>
<line x1="365.1" y1="583.97" x2="380.04" y2="583.97" stroke="#000080" stroke-width="2.1"/>
<line x1="373.46" y1="579.3" x2="373.46" y2="589.58" stroke="#000080" stroke-width="2.1"/>
<rect x="370.46" y="580.97" width="6" height="6" fill="#000080"/>
<line x1="380.64" y1="601.49" x2="395.58" y2="601.49" stroke="#000080" stroke-width="2.1"/>
<line x1="389" y1="597.99" x2="389" y2="604.99" stroke="#000080" stroke-width="2.1"/>
<rect x="386" y="598.49" width="6" height="6" fill="#000080"/>
<line x1="396.18" y1="607.8" x2="411.12" y2="607.8" stroke="#000080" stroke-width="2.1"/>
<line x1="404.54" y1="604.99" x2="404.54" y2="610.6" stroke="#000080" stroke-width="2.1"/>
<rect x="401.54" y="604.8" width="6" height="6" fill="#000080"/>
<line x1="411.72" y1="602.66" x2="426.66" y2="602.66" stroke="#000080" stroke-width="2.1"/>
<line x1="420.08" y1="599.39" x2="420.08" y2="605.93" stroke="#000080" stroke-width="2.1"/>
<rect x="417.08" y="599.66" width="6" height="6" fill="#000080"/>
<line x1="427.26" y1="614.1" x2="442.2" y2="614.1" stroke="#000080" stroke-width="2.1"/>
<line x1="435.62" y1="611.3" x2="435.62" y2="617.14" stroke="#000080" stroke-width="2.1"/>
<rect x="432.62" y="611.1" width="6" height="6" fill="#000080"/>
<line x1="442.8" y1="610.6" x2="457.74" y2="610.6" stroke="#000080" stroke-width="2.1"/>
<line x1="451.16" y1="607.33" x2="451.16" y2="614.34" stroke="#000080" stroke-width="2.1"/>
<rect x="448.16" y="607.6" width="6" height="6" fill="#000080"/>
<line x1="458.34" y1="598.92" x2="473.28" y2="598.92" stroke="#000080" stroke-width="2.1"/>
<line x1="466.7" y1="593.78" x2="466.7" y2="604.29" stroke="#000080" stroke-width="2.1"/>
<rect x="463.7" y="595.92" width="6" height="6" fill="#000080"/>
<line x1="473.88" y1="600.79" x2="488.82" y2="600.79" stroke="#000080" stroke-width="2.1"/>
<line x1="482.24" y1="593.31" x2="482.24" y2="607.8" stroke="#000080" stroke-width="2.1"/>
<rect x="479.24" y="597.79" width="6" height="6" fill="#000080"/>
<line x1="489.42" y1="586.77" x2="504.36" y2="586.77" stroke="#000080" stroke-width="2.1"/>
<line x1="497.78" y1="574.63" x2="497.78" y2="599.62" stroke="#000080" stroke-width="2.1"/>
<rect x="494.78" y="583.77" width="6" height="6" fill="#000080"/>
<line x1="504.96" y1="593.78" x2="519.9" y2="593.78" stroke="#000080" stroke-width="2.1"/>
<line x1="513.32" y1="572.29" x2="513.32" y2="615.27" stroke="#000080" stroke-width="2.1"/>
<rect x="510.32" y="590.78" width="6" height="6" fill="#000080"/>
</g>
<path d="M364.8 635.35h2.3M520.2 635.35h-2.3M364.8 630.48h2.3M520.2 630.48h-2.3M364.8 625.61h2.3M520.2 625.61h-2.3M364.8 620.74h4.6M520.2 620.74h-4.6M364.8 615.87h2.3M520.2 615.87h-2.3M364.8 611h2.3M520.2 611h-2.3M364.8 606.13h2.3M520.2 606.13h-2.3M364.8 601.26h4.6M520.2 601.26h-4.6M364.8 596.39h2.3M520.2 596.39h-2.3M364.8 591.52h2.3M520.2 591.52h-2.3M364.8 586.65h2.3M520.2 586.65h-2.3M364.8 581.78h4.6M520.2 581.78h-4.6M364.8 576.91h2.3M520.2 576.91h-2.3M364.8 572.04h2.3M520.2 572.04h-2.3M364.8 567.17h2.3M520.2 567.17h-2.3M364.8 562.3h4.6M520.2 562.3h-4.6M364.8 557.43h2.3M520.2 557.43h-2.3M364.8 552.56h2.3M520.2 552.56h-2.3M364.8 547.69h2.3M520.2 547.69h-2.3M364.8 542.82h4.6M520.2 542.82h-4.6M364.8 537.95h2.3M520.2 537.95h-2.3M364.8 533.08h2.3M520.2 533.08h-2.3M364.8 528.21h2.3M520.2 528.21h-2.3M364.8 523.34h4.6M520.2 523.34h-4.6M364.8 518.47h2.3M520.2 518.47h-2.3M364.8 513.6h2.3M520.2 513.6h-2.3M364.8 508.73h2.3M520.2 508.73h-2.3M364.8 503.86h4.6M520.2 503.86h-4.6M364.8 498.99h2.3M520.2 498.99h-2.3M364.8 494.12h2.3M520.2 494.12h-2.3M364.8 489.25h2.3M520.2 489.25h-2.3M388.19 638.95v-2.4M388.19 485.35v2.4M401.87 638.95v-2.4M401.87 485.35v2.4M411.58 638.95v-2.4M411.58 485.35v2.4M419.11 638.95v-2.4M419.11 485.35v2.4M425.26 638.95v-2.4M425.26 485.35v2.4M430.46 638.95v-2.4M430.46 485.35v2.4M434.97 638.95v-2.4M434.97 485.35v2.4M438.94 638.95v-2.4M438.94 485.35v2.4M442.5 638.95v-4.6M442.5 485.35v4.6M465.89 638.95v-2.4M465.89 485.35v2.4M479.57 638.95v-2.4M479.57 485.35v2.4M489.28 638.95v-2.4M489.28 485.35v2.4M496.81 638.95v-2.4M496.81 485.35v2.4M502.96 638.95v-2.4M502.96 485.35v2.4M508.16 638.95v-2.4M508.16 485.35v2.4M512.67 638.95v-2.4M512.67 485.35v2.4M516.64 638.95v-2.4M516.64 485.35v2.4" stroke="#000" stroke-width="1.1" fill="none"/>
<rect x="364.8" y="485.35" width="155.4" height="153.6" fill="none" stroke="#000" stroke-width="1.35"/>
</g>
<g>
<clipPath id="cp33"><rect x="527.4" y="485.35" width="155.4" height="153.6"/></clipPath>
<g clip-path="url(#cp33)">
<rect x="527.4" y="596.12" width="15.54" height="8.18" fill="#dedef8"/>
<rect x="542.94" y="586.77" width="15.54" height="6.54" fill="#dedef8"/>
<rect x="558.48" y="604.99" width="15.54" height="5.14" fill="#dedef8"/>
<rect x="574.02" y="602.66" width="15.54" height="6.31" fill="#dedef8"/>
<rect x="589.56" y="600.79" width="15.54" height="5.84" fill="#dedef8"/>
<rect x="605.1" y="583.27" width="15.54" height="8.18" fill="#dedef8"/>
<rect x="620.64" y="597.28" width="15.54" height="7.01" fill="#dedef8"/>
<rect x="636.18" y="598.92" width="15.54" height="8.88" fill="#dedef8"/>
<rect x="651.72" y="590.28" width="15.54" height="21.02" fill="#dedef8"/>
<rect x="667.26" y="577.43" width="15.54" height="34.57" fill="#dedef8"/>
<line x1="531.4" y1="601.26" x2="682.8" y2="601.26" stroke="#6a6a6a" stroke-width="1.3" stroke-dasharray="1.6 2.0"/>
<line x1="527.7" y1="600.09" x2="542.64" y2="600.09" stroke="#000080" stroke-width="2.1"/>
<line x1="536.06" y1="592.85" x2="536.06" y2="607.8" stroke="#000080" stroke-width="2.1"/>
<rect x="533.06" y="597.09" width="6" height="6" fill="#000080"/>
<line x1="543.24" y1="590.28" x2="558.18" y2="590.28" stroke="#000080" stroke-width="2.1"/>
<line x1="551.6" y1="584.91" x2="551.6" y2="596.12" stroke="#000080" stroke-width="2.1"/>
<rect x="548.6" y="587.28" width="6" height="6" fill="#000080"/>
<line x1="558.78" y1="607.8" x2="573.72" y2="607.8" stroke="#000080" stroke-width="2.1"/>
<line x1="567.14" y1="603.59" x2="567.14" y2="612" stroke="#000080" stroke-width="2.1"/>
<rect x="564.14" y="604.8" width="6" height="6" fill="#000080"/>
<line x1="574.32" y1="605.69" x2="589.26" y2="605.69" stroke="#000080" stroke-width="2.1"/>
<line x1="582.68" y1="601.96" x2="582.68" y2="610.13" stroke="#000080" stroke-width="2.1"/>
<rect x="579.68" y="602.69" width="6" height="6" fill="#000080"/>
<line x1="589.86" y1="603.59" x2="604.8" y2="603.59" stroke="#000080" stroke-width="2.1"/>
<line x1="598.22" y1="598.92" x2="598.22" y2="607.8" stroke="#000080" stroke-width="2.1"/>
<rect x="595.22" y="600.59" width="6" height="6" fill="#000080"/>
<line x1="605.4" y1="587.71" x2="620.34" y2="587.71" stroke="#000080" stroke-width="2.1"/>
<line x1="613.76" y1="582.1" x2="613.76" y2="594.25" stroke="#000080" stroke-width="2.1"/>
<rect x="610.76" y="584.71" width="6" height="6" fill="#000080"/>
<line x1="620.94" y1="600.79" x2="635.88" y2="600.79" stroke="#000080" stroke-width="2.1"/>
<line x1="629.3" y1="594.25" x2="629.3" y2="607.33" stroke="#000080" stroke-width="2.1"/>
<rect x="626.3" y="597.79" width="6" height="6" fill="#000080"/>
<line x1="636.48" y1="603.59" x2="651.42" y2="603.59" stroke="#000080" stroke-width="2.1"/>
<line x1="644.84" y1="596.12" x2="644.84" y2="612" stroke="#000080" stroke-width="2.1"/>
<rect x="641.84" y="600.59" width="6" height="6" fill="#000080"/>
<line x1="652.02" y1="600.79" x2="666.96" y2="600.79" stroke="#000080" stroke-width="2.1"/>
<line x1="660.38" y1="586.77" x2="660.38" y2="613.64" stroke="#000080" stroke-width="2.1"/>
<rect x="657.38" y="597.79" width="6" height="6" fill="#000080"/>
<line x1="667.56" y1="586.31" x2="682.5" y2="586.31" stroke="#000080" stroke-width="2.1"/>
<line x1="675.92" y1="560.61" x2="675.92" y2="612" stroke="#000080" stroke-width="2.1"/>
<rect x="672.92" y="583.31" width="6" height="6" fill="#000080"/>
</g>
<path d="M527.4 635.35h2.3M682.8 635.35h-2.3M527.4 630.48h2.3M682.8 630.48h-2.3M527.4 625.61h2.3M682.8 625.61h-2.3M527.4 620.74h4.6M682.8 620.74h-4.6M527.4 615.87h2.3M682.8 615.87h-2.3M527.4 611h2.3M682.8 611h-2.3M527.4 606.13h2.3M682.8 606.13h-2.3M527.4 601.26h4.6M682.8 601.26h-4.6M527.4 596.39h2.3M682.8 596.39h-2.3M527.4 591.52h2.3M682.8 591.52h-2.3M527.4 586.65h2.3M682.8 586.65h-2.3M527.4 581.78h4.6M682.8 581.78h-4.6M527.4 576.91h2.3M682.8 576.91h-2.3M527.4 572.04h2.3M682.8 572.04h-2.3M527.4 567.17h2.3M682.8 567.17h-2.3M527.4 562.3h4.6M682.8 562.3h-4.6M527.4 557.43h2.3M682.8 557.43h-2.3M527.4 552.56h2.3M682.8 552.56h-2.3M527.4 547.69h2.3M682.8 547.69h-2.3M527.4 542.82h4.6M682.8 542.82h-4.6M527.4 537.95h2.3M682.8 537.95h-2.3M527.4 533.08h2.3M682.8 533.08h-2.3M527.4 528.21h2.3M682.8 528.21h-2.3M527.4 523.34h4.6M682.8 523.34h-4.6M527.4 518.47h2.3M682.8 518.47h-2.3M527.4 513.6h2.3M682.8 513.6h-2.3M527.4 508.73h2.3M682.8 508.73h-2.3M527.4 503.86h4.6M682.8 503.86h-4.6M527.4 498.99h2.3M682.8 498.99h-2.3M527.4 494.12h2.3M682.8 494.12h-2.3M527.4 489.25h2.3M682.8 489.25h-2.3M550.79 638.95v-2.4M550.79 485.35v2.4M564.47 638.95v-2.4M564.47 485.35v2.4M574.18 638.95v-2.4M574.18 485.35v2.4M581.71 638.95v-2.4M581.71 485.35v2.4M587.86 638.95v-2.4M587.86 485.35v2.4M593.06 638.95v-2.4M593.06 485.35v2.4M597.57 638.95v-2.4M597.57 485.35v2.4M601.54 638.95v-2.4M601.54 485.35v2.4M605.1 638.95v-4.6M605.1 485.35v4.6M628.49 638.95v-2.4M628.49 485.35v2.4M642.17 638.95v-2.4M642.17 485.35v2.4M651.88 638.95v-2.4M651.88 485.35v2.4M659.41 638.95v-2.4M659.41 485.35v2.4M665.56 638.95v-2.4M665.56 485.35v2.4M670.76 638.95v-2.4M670.76 485.35v2.4M675.27 638.95v-2.4M675.27 485.35v2.4M679.24 638.95v-2.4M679.24 485.35v2.4" stroke="#000" stroke-width="1.1" fill="none"/>
<rect x="527.4" y="485.35" width="155.4" height="153.6" fill="none" stroke="#000" stroke-width="1.35"/>
</g>
<text x="36.9" y="25.51" font-size="10.2" text-anchor="end" fill="#111">2</text>
<text x="36.9" y="44.99" font-size="10.2" text-anchor="end" fill="#111">1.8</text>
<text x="36.9" y="64.47" font-size="10.2" text-anchor="end" fill="#111">1.6</text>
<text x="36.9" y="83.95" font-size="10.2" text-anchor="end" fill="#111">1.4</text>
<text x="36.9" y="103.43" font-size="10.2" text-anchor="end" fill="#111">1.2</text>
<text x="36.9" y="122.91" font-size="10.2" text-anchor="end" fill="#111">1</text>
<text x="36.9" y="142.39" font-size="10.2" text-anchor="end" fill="#111">0.8</text>
<text x="36.9" y="186.26" font-size="10.2" text-anchor="end" fill="#111">2</text>
<text x="36.9" y="205.74" font-size="10.2" text-anchor="end" fill="#111">1.8</text>
<text x="36.9" y="225.22" font-size="10.2" text-anchor="end" fill="#111">1.6</text>
<text x="36.9" y="244.7" font-size="10.2" text-anchor="end" fill="#111">1.4</text>
<text x="36.9" y="264.18" font-size="10.2" text-anchor="end" fill="#111">1.2</text>
<text x="36.9" y="283.66" font-size="10.2" text-anchor="end" fill="#111">1</text>
<text x="36.9" y="303.14" font-size="10.2" text-anchor="end" fill="#111">0.8</text>
<text x="36.9" y="347.01" font-size="10.2" text-anchor="end" fill="#111">2</text>
<text x="36.9" y="366.49" font-size="10.2" text-anchor="end" fill="#111">1.8</text>
<text x="36.9" y="385.97" font-size="10.2" text-anchor="end" fill="#111">1.6</text>
<text x="36.9" y="405.45" font-size="10.2" text-anchor="end" fill="#111">1.4</text>
<text x="36.9" y="424.93" font-size="10.2" text-anchor="end" fill="#111">1.2</text>
<text x="36.9" y="444.41" font-size="10.2" text-anchor="end" fill="#111">1</text>
<text x="36.9" y="463.89" font-size="10.2" text-anchor="end" fill="#111">0.8</text>
<text x="36.9" y="507.76" font-size="10.2" text-anchor="end" fill="#111">2</text>
<text x="36.9" y="527.24" font-size="10.2" text-anchor="end" fill="#111">1.8</text>
<text x="36.9" y="546.72" font-size="10.2" text-anchor="end" fill="#111">1.6</text>
<text x="36.9" y="566.2" font-size="10.2" text-anchor="end" fill="#111">1.4</text>
<text x="36.9" y="585.68" font-size="10.2" text-anchor="end" fill="#111">1.2</text>
<text x="36.9" y="605.16" font-size="10.2" text-anchor="end" fill="#111">1</text>
<text x="36.9" y="624.64" font-size="10.2" text-anchor="end" fill="#111">0.8</text>
<text x="41.6" y="651.6" font-size="10.2" text-anchor="middle" fill="#111">1</text>
<text x="62.19" y="651.6" font-size="10.2" text-anchor="middle" fill="#111">2</text>
<text x="85.58" y="651.6" font-size="10.2" text-anchor="middle" fill="#111">4</text>
<text x="116.5" y="651.6" font-size="10.2" text-anchor="middle" fill="#111">10</text>
<text x="139.89" y="651.6" font-size="10.2" text-anchor="middle" fill="#111">20</text>
<text x="163.28" y="651.6" font-size="10.2" text-anchor="middle" fill="#111">40</text>
<text x="194.4" y="651.6" font-size="10.2" text-anchor="end" fill="#111">100</text>
<text x="204.2" y="651.6" font-size="10.2" text-anchor="middle" fill="#111">1</text>
<text x="224.79" y="651.6" font-size="10.2" text-anchor="middle" fill="#111">2</text>
<text x="248.18" y="651.6" font-size="10.2" text-anchor="middle" fill="#111">4</text>
<text x="279.1" y="651.6" font-size="10.2" text-anchor="middle" fill="#111">10</text>
<text x="302.49" y="651.6" font-size="10.2" text-anchor="middle" fill="#111">20</text>
<text x="325.88" y="651.6" font-size="10.2" text-anchor="middle" fill="#111">40</text>
<text x="357" y="651.6" font-size="10.2" text-anchor="end" fill="#111">100</text>
<text x="366.8" y="651.6" font-size="10.2" text-anchor="middle" fill="#111">1</text>
<text x="387.39" y="651.6" font-size="10.2" text-anchor="middle" fill="#111">2</text>
<text x="410.78" y="651.6" font-size="10.2" text-anchor="middle" fill="#111">4</text>
<text x="441.7" y="651.6" font-size="10.2" text-anchor="middle" fill="#111">10</text>
<text x="465.09" y="651.6" font-size="10.2" text-anchor="middle" fill="#111">20</text>
<text x="488.48" y="651.6" font-size="10.2" text-anchor="middle" fill="#111">40</text>
<text x="519.6" y="651.6" font-size="10.2" text-anchor="end" fill="#111">100</text>
<text x="529.4" y="651.6" font-size="10.2" text-anchor="middle" fill="#111">1</text>
<text x="549.99" y="651.6" font-size="10.2" text-anchor="middle" fill="#111">2</text>
<text x="573.38" y="651.6" font-size="10.2" text-anchor="middle" fill="#111">4</text>
<text x="604.3" y="651.6" font-size="10.2" text-anchor="middle" fill="#111">10</text>
<text x="627.69" y="651.6" font-size="10.2" text-anchor="middle" fill="#111">20</text>
<text x="651.08" y="651.6" font-size="10.2" text-anchor="middle" fill="#111">40</text>
<text x="682.2" y="651.6" font-size="10.2" text-anchor="end" fill="#111">100</text>
<text x="198.1" y="668.6" font-size="11.4" text-anchor="end" letter-spacing="0.25" fill="#111">[GeV]</text>
<text x="160.4" y="674.6" font-size="6.8" text-anchor="start" fill="#111">T</text>
<text x="153.1" y="668.3" font-size="11.6" text-anchor="start" font-style="italic" fill="#111">p</text>
<text x="356.5" y="668.6" font-size="11.4" text-anchor="end" letter-spacing="0.25" fill="#111">[GeV]</text>
<text x="318.8" y="674.6" font-size="6.8" text-anchor="start" fill="#111">T</text>
<text x="311.5" y="668.3" font-size="11.6" text-anchor="start" font-style="italic" fill="#111">p</text>
<text x="517" y="668.6" font-size="11.4" text-anchor="end" letter-spacing="0.25" fill="#111">[GeV]</text>
<text x="479.3" y="674.6" font-size="6.8" text-anchor="start" fill="#111">T</text>
<text x="472" y="668.3" font-size="11.6" text-anchor="start" font-style="italic" fill="#111">p</text>
<text x="682.5" y="668.6" font-size="11.4" text-anchor="end" letter-spacing="0.25" fill="#111">[GeV]</text>
<text x="644.8" y="674.6" font-size="6.8" text-anchor="start" fill="#111">T</text>
<text x="637.5" y="668.3" font-size="11.6" text-anchor="start" font-style="italic" fill="#111">p</text>
<text transform="translate(9.8,1.3) rotate(-90)" font-size="11.7" text-anchor="end" fill="#111"><tspan font-style="italic">R</tspan><tspan font-size="8.7" dy="4.1" font-style="italic">D</tspan><tspan font-size="8.8">(</tspan><tspan font-size="8.8" font-style="italic">p</tspan><tspan font-size="6.4" dy="3.4">T</tspan><tspan font-size="8.8" dy="-3.4">)</tspan></text>
<text transform="translate(9.6,161.9) rotate(-90)" font-size="11.7" text-anchor="end" fill="#111"><tspan font-style="italic">R</tspan><tspan font-size="8.7" dy="4.1" font-style="italic">D</tspan><tspan font-size="8.8">(</tspan><tspan font-size="8.8" font-style="italic">p</tspan><tspan font-size="6.4" dy="3.4">T</tspan><tspan font-size="8.8" dy="-3.4">)</tspan></text>
<text transform="translate(14,322.8) rotate(-90)" font-size="11.7" text-anchor="end" fill="#111"><tspan font-style="italic">R</tspan><tspan font-size="8.7" dy="4.1" font-style="italic">D</tspan><tspan font-size="8.8">(</tspan><tspan font-size="8.8" font-style="italic">p</tspan><tspan font-size="6.4" dy="3.4">T</tspan><tspan font-size="8.8" dy="-3.4">)</tspan></text>
<text transform="translate(9.6,487.4) rotate(-90)" font-size="11.7" text-anchor="end" fill="#111"><tspan font-style="italic">R</tspan><tspan font-size="8.7" dy="4.1" font-style="italic">D</tspan><tspan font-size="8.8">(</tspan><tspan font-size="8.8" font-style="italic">p</tspan><tspan font-size="6.4" dy="3.4">T</tspan><tspan font-size="8.8" dy="-3.4">)</tspan></text>
<text x="0" y="0" transform="translate(53.5,23.5) scale(1.04,1)" font-size="15.6" letter-spacing="0" font-weight="bold" font-style="italic" fill="#000">ATLAS</text>
<text x="179.4" y="39.1" font-size="10.8" text-anchor="end" fill="#111">Pb+Pb 0-10%</text>
<text x="180.6" y="55.6" font-size="10.8" text-anchor="end" fill="#111">|y| &lt; 2.1</text>
<text x="339.9" y="17.6" font-size="10.8" text-anchor="end" fill="#111" word-spacing="0.75">2011 Pb+Pb data, 0.14 nb</text>
<text x="340.3" y="12.8" font-size="6.6" text-anchor="start" fill="#111">-1</text>
<text x="339.9" y="32.6" font-size="10.8" text-anchor="end" fill="#111" word-spacing="0.6">2013 <tspan font-style="italic">pp</tspan> data, 4.0 pb</text>
<text x="340.3" y="27.8" font-size="6.6" text-anchor="start" fill="#111">-1</text>
<text x="344.6" y="47.7" font-size="10.8" text-anchor="end" fill="#111">Pb+Pb 0-10%</text>
<text x="344.8" y="63.2" font-size="10.8" text-anchor="end" fill="#111">|y| &lt; 0.3</text>
<path d="M423.5 11.7 L425.1 10.7 L426.6 19.4 L428.1 7.3 H444.6" stroke="#111" stroke-width="1" fill="none" stroke-linejoin="miter"/>
<path d="M425.0 10.9 L426.4 19.2" stroke="#111" stroke-width="1.6" fill="none"/>
<text x="429.7" y="16.6" font-size="10" text-anchor="start" fill="#111">s</text>
<text x="434.7" y="19.9" font-size="6.8" text-anchor="start" fill="#111">NN</text>
<text x="501.7" y="16.8" font-size="10.8" text-anchor="end" fill="#111" word-spacing="0.8">= 2.76 TeV</text>
<text x="411.7" y="30.3" font-size="10.8" text-anchor="start" fill="#111">anti-</text>
<text x="432.9" y="30.3" font-size="10.8" text-anchor="start" fill="#111" font-style="italic">k</text>
<text x="439.2" y="33.4" font-size="7" text-anchor="start" fill="#111">t</text>
<text x="444.9" y="30.3" font-size="10.8" text-anchor="start" fill="#111" font-style="italic">R</text>
<text x="501.6" y="30.3" font-size="10.8" text-anchor="end" fill="#111">= 0.4 jets</text>
<text x="501.1" y="47.7" font-size="10.8" text-anchor="end" fill="#111">Pb+Pb 0-10%</text>
<text x="501.4" y="63.6" font-size="10.8" text-anchor="end" fill="#111">0.3 &lt; |y| &lt; 0.8</text>
<text x="665.5" y="22.7" font-size="10.8" text-anchor="end" fill="#111">Pb+Pb 0-10%</text>
<text x="666.9" y="39.2" font-size="10.8" text-anchor="end" fill="#111">1.2 &lt; |y| &lt; 2.1</text>
<text x="179.4" y="187.55" font-size="10.8" text-anchor="end" fill="#111">Pb+Pb 20-30%</text>
<text x="180.6" y="202.75" font-size="10.8" text-anchor="end" fill="#111">|y| &lt; 2.1</text>
<text x="344.6" y="187.55" font-size="10.8" text-anchor="end" fill="#111">Pb+Pb 20-30%</text>
<text x="344.8" y="202.75" font-size="10.8" text-anchor="end" fill="#111">|y| &lt; 0.3</text>
<text x="501.1" y="187.55" font-size="10.8" text-anchor="end" fill="#111">Pb+Pb 20-30%</text>
<text x="501.4" y="202.75" font-size="10.8" text-anchor="end" fill="#111">0.3 &lt; |y| &lt; 0.8</text>
<text x="665.5" y="187.55" font-size="10.8" text-anchor="end" fill="#111">Pb+Pb 20-30%</text>
<text x="666.9" y="202.75" font-size="10.8" text-anchor="end" fill="#111">1.2 &lt; |y| &lt; 2.1</text>
<text x="179.4" y="348.3" font-size="10.8" text-anchor="end" fill="#111">Pb+Pb 30-40%</text>
<text x="180.6" y="363.5" font-size="10.8" text-anchor="end" fill="#111">|y| &lt; 2.1</text>
<text x="344.6" y="348.3" font-size="10.8" text-anchor="end" fill="#111">Pb+Pb 30-40%</text>
<text x="344.8" y="363.5" font-size="10.8" text-anchor="end" fill="#111">|y| &lt; 0.3</text>
<text x="501.1" y="348.3" font-size="10.8" text-anchor="end" fill="#111">Pb+Pb 30-40%</text>
<text x="501.4" y="363.5" font-size="10.8" text-anchor="end" fill="#111">0.3 &lt; |y| &lt; 0.8</text>
<text x="665.5" y="348.3" font-size="10.8" text-anchor="end" fill="#111">Pb+Pb 30-40%</text>
<text x="666.9" y="363.5" font-size="10.8" text-anchor="end" fill="#111">1.2 &lt; |y| &lt; 2.1</text>
<text x="179.4" y="512.05" font-size="10.8" text-anchor="end" fill="#111">Pb+Pb 60-80%</text>
<text x="180.6" y="530.25" font-size="10.8" text-anchor="end" fill="#111">|y| &lt; 2.1</text>
<text x="344.6" y="512.05" font-size="10.8" text-anchor="end" fill="#111">PbPb 60-80%</text>
<text x="344.8" y="530.25" font-size="10.8" text-anchor="end" fill="#111">|y| &lt; 0.3</text>
<text x="501.1" y="512.05" font-size="10.8" text-anchor="end" fill="#111">Pb+Pb 60-80%</text>
<text x="501.4" y="530.25" font-size="10.8" text-anchor="end" fill="#111">0.3 &lt; |y| &lt; 0.8</text>
<text x="665.5" y="512.05" font-size="10.8" text-anchor="end" fill="#111">Pb+Pb 60-80%</text>
<text x="666.9" y="530.25" font-size="10.8" text-anchor="end" fill="#111">1.2 &lt; |y| &lt; 2.1</text>
</svg></body></html>
